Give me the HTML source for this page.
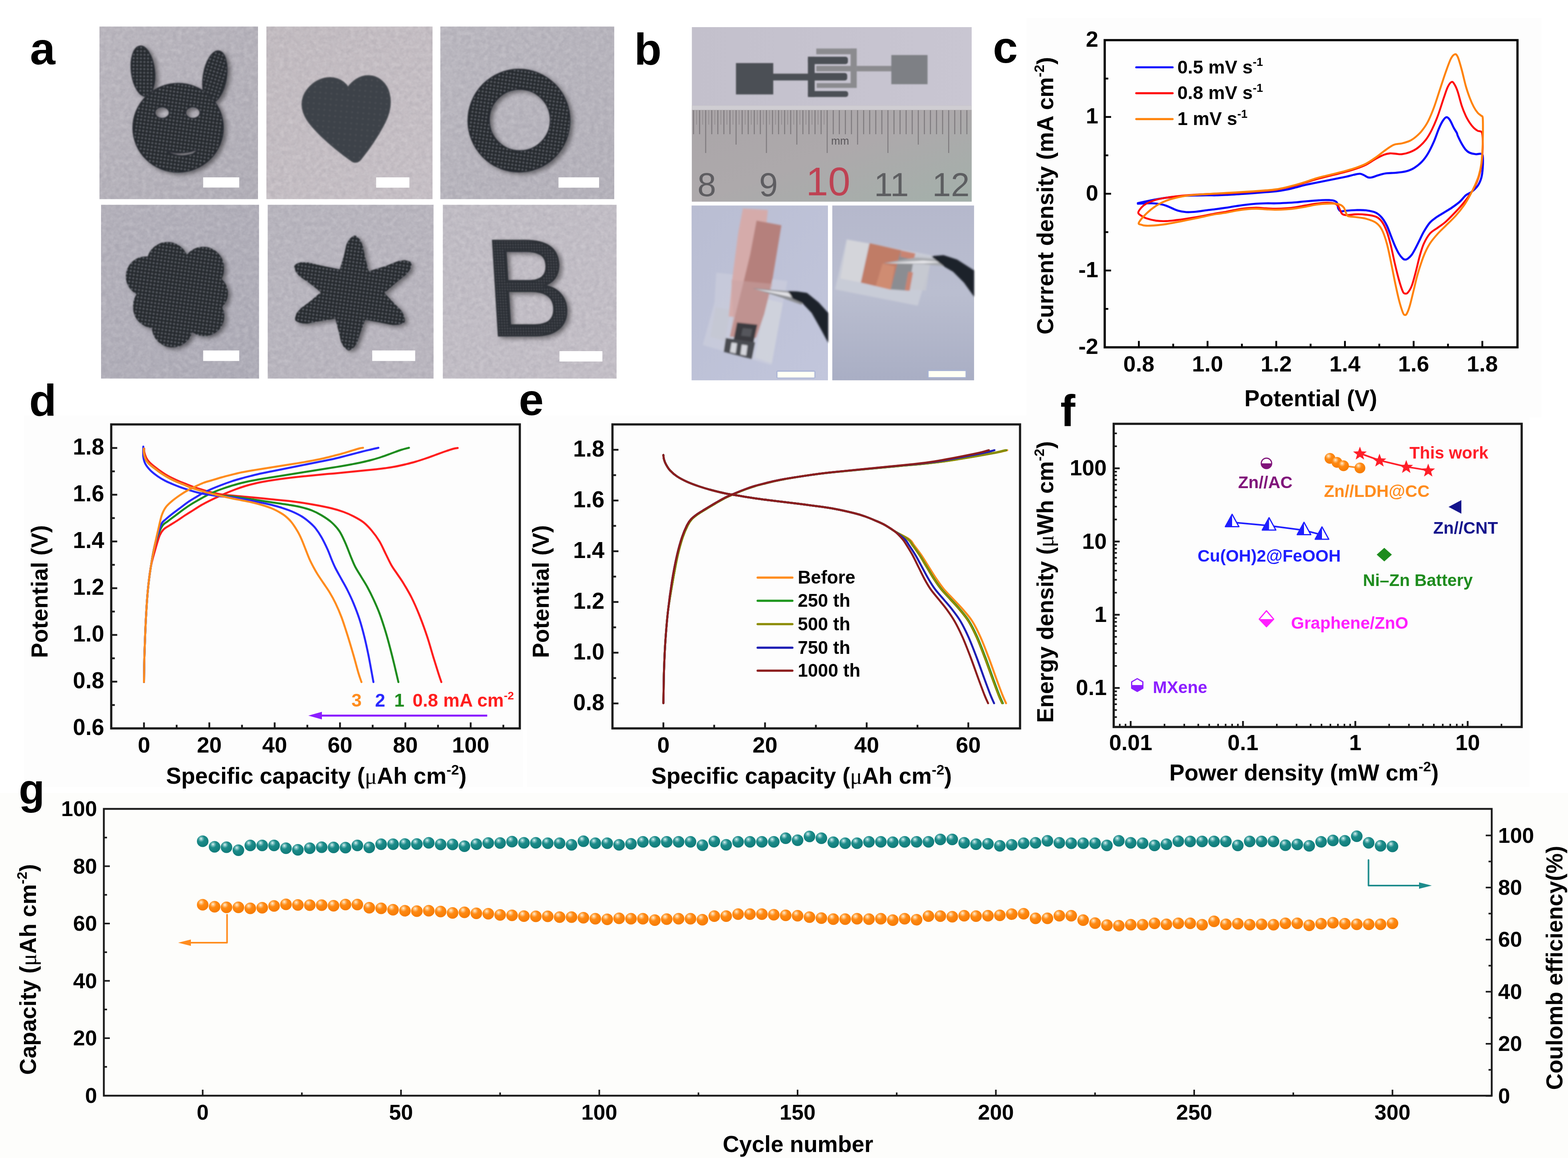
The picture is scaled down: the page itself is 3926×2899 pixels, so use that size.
<!DOCTYPE html>
<html lang="en"><head><meta charset="utf-8"><title>Figure</title>
<style>
html,body{margin:0;padding:0;background:#fff;}
body{width:3926px;height:2899px;overflow:hidden;}
svg{display:block;font-family:"Liberation Sans",Arial,Helvetica,sans-serif;}
</style></head><body>
<svg width="3926" height="2899" viewBox="0 0 3926 2899">
<rect width="3926" height="2899" fill="#ffffff"/>

<defs>
<radialGradient id="gOr" cx="0.38" cy="0.32" r="0.7" fx="0.36" fy="0.28">
 <stop offset="0" stop-color="#fff3e0"/><stop offset="0.14" stop-color="#ffc98a"/><stop offset="0.4" stop-color="#ff8a14"/><stop offset="1" stop-color="#f57a00"/>
</radialGradient>
<radialGradient id="gTe" cx="0.38" cy="0.32" r="0.7" fx="0.36" fy="0.28">
 <stop offset="0" stop-color="#e8fafa"/><stop offset="0.14" stop-color="#8cc8c8"/><stop offset="0.4" stop-color="#1c8c8a"/><stop offset="1" stop-color="#0f7a78"/>
</radialGradient>
<linearGradient id="bgA1" x1="0" y1="0" x2="1" y2="1"><stop offset="0" stop-color="#b9b5bd"/><stop offset="1" stop-color="#b0adb6"/></linearGradient>
<linearGradient id="bgA2" x1="0" y1="0" x2="1" y2="1"><stop offset="0" stop-color="#c1babf"/><stop offset="1" stop-color="#c6bfc5"/></linearGradient>
<linearGradient id="bgA3" x1="0" y1="0" x2="1" y2="1"><stop offset="0" stop-color="#b9b6be"/><stop offset="1" stop-color="#b3b0b9"/></linearGradient>
<linearGradient id="bgA4" x1="0" y1="0" x2="1" y2="1"><stop offset="0" stop-color="#b2afb9"/><stop offset="1" stop-color="#adabb6"/></linearGradient>
<linearGradient id="bgA5" x1="0" y1="0" x2="1" y2="1"><stop offset="0" stop-color="#b6b3bc"/><stop offset="1" stop-color="#b9b5be"/></linearGradient>
<linearGradient id="bgA6" x1="0" y1="0" x2="1" y2="1"><stop offset="0" stop-color="#bfbbc3"/><stop offset="1" stop-color="#c3bec6"/></linearGradient>
<linearGradient id="bgB1" x1="0" y1="0" x2="1" y2="0"><stop offset="0" stop-color="#c3c0cc"/><stop offset="1" stop-color="#c9c6d2"/></linearGradient>
<linearGradient id="ruler" x1="0" y1="0" x2="1" y2="1"><stop offset="0" stop-color="#aaa5a8"/><stop offset="0.5" stop-color="#ada9ab"/><stop offset="1" stop-color="#a3b0aa"/></linearGradient>
<linearGradient id="bgB2" x1="0" y1="0" x2="1" y2="1"><stop offset="0" stop-color="#b9bdd2"/><stop offset="1" stop-color="#c2c6dc"/></linearGradient>
<linearGradient id="bgB3" x1="0" y1="0" x2="0" y2="1"><stop offset="0" stop-color="#b5b8cc"/><stop offset="0.5" stop-color="#babed0"/><stop offset="1" stop-color="#a9aec4"/></linearGradient>
<pattern id="knit" width="9" height="9" patternUnits="userSpaceOnUse" patternTransform="rotate(8)">
 <rect width="9" height="9" fill="#26292f"/><circle cx="4.5" cy="4.5" r="2.1" fill="#666a72"/>
</pattern>
<pattern id="knit2" width="7" height="7" patternUnits="userSpaceOnUse">
 <rect width="7" height="7" fill="#2b2e34"/><circle cx="3.5" cy="3.5" r="1.5" fill="#5c6068"/>
</pattern>
<pattern id="heartp" width="14" height="14" patternUnits="userSpaceOnUse" patternTransform="rotate(5)">
 <rect width="14" height="14" fill="#3e4248"/><circle cx="7" cy="7" r="2" fill="#4c5057"/>
</pattern>
<filter id="grain" x="0" y="0" width="100%" height="100%">
 <feTurbulence type="fractalNoise" baseFrequency="0.09 0.09" numOctaves="3" seed="7" result="n"/>
 <feColorMatrix in="n" type="matrix" values="0 0 0 0 0.2  0 0 0 0 0.2  0 0 0 0 0.25  1.6 0 0 0 -0.55"/>
</filter>
<filter id="grain2" x="0" y="0" width="100%" height="100%">
 <feTurbulence type="fractalNoise" baseFrequency="0.09 0.09" numOctaves="3" seed="11" result="n"/>
 <feColorMatrix in="n" type="matrix" values="0 0 0 0 1  0 0 0 0 1  0 0 0 0 1  1.6 0 0 0 -0.55"/>
</filter>
<filter id="soft" x="-10%" y="-10%" width="120%" height="120%"><feGaussianBlur stdDeviation="1.6"/></filter>
<filter id="soft2" x="-10%" y="-10%" width="120%" height="120%"><feGaussianBlur stdDeviation="2.2"/></filter>
<filter id="shadow" x="-20%" y="-20%" width="140%" height="140%">
 <feGaussianBlur in="SourceAlpha" stdDeviation="6" result="b"/><feOffset in="b" dx="7" dy="5" result="o"/>
 <feComponentTransfer in="o" result="s"><feFuncA type="linear" slope="0.45"/></feComponentTransfer>
 <feMerge><feMergeNode in="s"/><feMergeNode in="SourceGraphic"/></feMerge>
</filter>
</defs>

<rect x="249" y="66.5" width="397" height="432" fill="url(#bgA1)" stroke="none" stroke-width="0"/>
<rect x="249" y="66.5" width="397" height="432" fill="#000" stroke="none" stroke-width="0" filter="url(#grain)" opacity="0.16"/>
<rect x="249" y="66.5" width="397" height="432" fill="#fff" stroke="none" stroke-width="0" filter="url(#grain2)" opacity="0.18"/>
<g filter="url(#soft)">
<g filter="url(#shadow)">
<g fill="url(#knit)" stroke="#2b2e34" stroke-width="3">
<ellipse cx="358" cy="178" rx="29" ry="63" transform="rotate(-7 358 178)"/>
<ellipse cx="538" cy="192" rx="29" ry="65" transform="rotate(9 538 192)"/>
<path fill-rule="evenodd" d="M333,320 a113,111 0 1 0 226,0 a113,111 0 1 0 -226,0 Z M388,282 a18,14.5 0 1 0 36,0 a18,14.5 0 1 0 -36,0 Z M465,282 a18,14.5 0 1 0 36,0 a18,14.5 0 1 0 -36,0 Z M412,376 q40,14 82,-2 q-4,10 -16,13 q-34,10 -66,-11 Z"/>
</g></g></g>
<rect x="508.7" y="444" width="90.3" height="25.5" fill="#fff" stroke="none" stroke-width="0"/>
<rect x="667" y="66.5" width="416" height="432" fill="url(#bgA2)" stroke="none" stroke-width="0"/>
<rect x="667" y="66.5" width="416" height="432" fill="#000" stroke="none" stroke-width="0" filter="url(#grain)" opacity="0.16"/>
<rect x="667" y="66.5" width="416" height="432" fill="#fff" stroke="none" stroke-width="0" filter="url(#grain2)" opacity="0.18"/>
<g filter="url(#soft)"><path d="M871.5,218.6 C857.9,197.4 833.7,191.3 812.5,195.9 C782.3,203.4 756.5,230.7 756.5,260.9 C756.5,291.2 779.2,315.4 803.4,339.6 C833.7,368.4 864,391.1 879.1,401.7 C886.7,407.7 895.8,407.7 903.3,398.7 C921.5,376 945.7,342.7 963.8,306.3 C976,282.1 980.5,257.9 974.4,233.7 C968.4,209.5 948.7,189.8 921.5,189.8 C900.3,189.8 882.1,203.4 871.5,218.6Z" fill="url(#heartp)" stroke="#45494f" stroke-width="3"/></g>
<rect x="941.8" y="444" width="83.2" height="25.8" fill="#fff" stroke="none" stroke-width="0"/>
<rect x="1102.5" y="66.5" width="435.5" height="432" fill="url(#bgA3)" stroke="none" stroke-width="0"/>
<rect x="1102.5" y="66.5" width="435.5" height="432" fill="#000" stroke="none" stroke-width="0" filter="url(#grain)" opacity="0.16"/>
<rect x="1102.5" y="66.5" width="435.5" height="432" fill="#fff" stroke="none" stroke-width="0" filter="url(#grain2)" opacity="0.18"/>
<g filter="url(#soft)"><g filter="url(#shadow)">
<path fill-rule="evenodd" fill="url(#knit)" stroke="#2b2e34" stroke-width="3" d="M1172,302 a127.5,128.5 0 1 0 255,0 a127.5,128.5 0 1 0 -255,0 Z M1225,300.5 a76.5,77 0 1 0 153,0 a76.5,77 0 1 0 -153,0 Z"/>
</g></g>
<rect x="1398.4" y="444" width="101.6" height="25.8" fill="#fff" stroke="none" stroke-width="0"/>
<rect x="253" y="512.7" width="395.5" height="435" fill="url(#bgA4)" stroke="none" stroke-width="0"/>
<rect x="253" y="512.7" width="395.5" height="435" fill="#000" stroke="none" stroke-width="0" filter="url(#grain)" opacity="0.16"/>
<rect x="253" y="512.7" width="395.5" height="435" fill="#fff" stroke="none" stroke-width="0" filter="url(#grain2)" opacity="0.18"/>
<g filter="url(#soft)"><g filter="url(#shadow)"><g fill="url(#knit)" stroke="#2b2e34" stroke-width="2">
<path d="M351.3,737.3 a90.8,90.8 0 1 0 181.6,0 a90.8,90.8 0 1 0 -181.6,0 Z M367.4,660.1 a52.1,52.1 0 1 0 104.1,0 a52.1,52.1 0 1 0 -104.1,0 Z M456.7,672.2 a52.1,52.1 0 1 0 104.1,0 a52.1,52.1 0 1 0 -104.1,0 Z M473.9,734.2 a48.4,48.4 0 1 0 96.9,0 a48.4,48.4 0 1 0 -96.9,0 Z M461.8,791.7 a49.9,49.9 0 1 0 99.9,0 a49.9,49.9 0 1 0 -99.9,0 Z M380.1,816 a51.5,51.5 0 1 0 102.9,0 a51.5,51.5 0 1 0 -102.9,0 Z M333.2,767.5 a51.5,51.5 0 1 0 102.9,0 a51.5,51.5 0 1 0 -102.9,0 Z M315,691.9 a49.9,49.9 0 1 0 99.9,0 a49.9,49.9 0 1 0 -99.9,0 Z" fill-rule="nonzero" stroke="none"/>
</g></g></g>
<rect x="508.7" y="877.4" width="90.3" height="26.3" fill="#fff" stroke="none" stroke-width="0"/>
<rect x="670.3" y="512.7" width="415.2" height="435" fill="url(#bgA5)" stroke="none" stroke-width="0"/>
<rect x="670.3" y="512.7" width="415.2" height="435" fill="#000" stroke="none" stroke-width="0" filter="url(#grain)" opacity="0.16"/>
<rect x="670.3" y="512.7" width="415.2" height="435" fill="#fff" stroke="none" stroke-width="0" filter="url(#grain2)" opacity="0.18"/>
<mask id="mstar" maskUnits="userSpaceOnUse" x="670" y="512" width="416" height="436"><path d="M868,641.2 L874,614.4 L880,603.1 L887.9,596.5 L895.6,603.9 L901.5,616.2 L907.2,644.5 L918.1,687.6 L967,672.9 L998.2,660.5 L1013.2,658.3 L1023.5,661.3 L1020.7,671.6 L1012.2,682.6 L988.7,701.2 L952.7,732.9 L981.2,763.5 L999.1,781.5 L1005.1,792.3 L1007,802.5 L996.9,806.3 L983,806.8 L954.6,800.9 L910.1,792.8 L895.8,830.8 L888.3,854.5 L881.7,864.5 L873.4,870.4 L865.9,863.6 L860.2,853.1 L855,829.1 L844.8,790.2 L798.5,797.4 L769.3,803.2 L755.3,802.5 L745.4,798.3 L748.4,788.2 L756.6,777.8 L779.4,760.8 L814.2,731.6 L778.7,703 L755.3,687.1 L746.8,677.2 L743.8,667.3 L754.4,663.5 L770.5,663.9 L804.5,672.2 L855.5,682.3Z" fill="#fff" stroke="#fff" stroke-width="14" stroke-linejoin="round"/></mask>
<g filter="url(#soft)"><g filter="url(#shadow)"><rect x="670" y="512" width="416" height="436" fill="url(#knit)" mask="url(#mstar)"/></g></g>
<rect x="932" y="877.4" width="107.5" height="26.3" fill="#fff" stroke="none" stroke-width="0"/>
<rect x="1108.8" y="512.7" width="435" height="435" fill="url(#bgA6)" stroke="none" stroke-width="0"/>
<rect x="1108.8" y="512.7" width="435" height="435" fill="#000" stroke="none" stroke-width="0" filter="url(#grain)" opacity="0.16"/>
<rect x="1108.8" y="512.7" width="435" height="435" fill="#fff" stroke="none" stroke-width="0" filter="url(#grain2)" opacity="0.18"/>
<g filter="url(#soft)"><g filter="url(#shadow)">
<text x="0" y="0" transform="translate(1222 840) skewX(3.5) scale(0.945 1)" font-size="345" font-weight="normal" fill="url(#knit2)" stroke="#2e3137" stroke-width="5" font-family="'Liberation Sans', Arial, sans-serif">B</text>
</g></g>
<rect x="1400.8" y="879" width="107.5" height="26" fill="#fff" stroke="none" stroke-width="0"/>
<text x="75" y="161" font-size="114" text-anchor="start" fill="#000" font-weight="bold">a</text>
<rect x="1732.3" y="67.9" width="700.6" height="436.9" fill="url(#bgB1)" stroke="none" stroke-width="0"/>
<rect x="1732.3" y="264.2" width="700.6" height="240.5" fill="url(#ruler)" stroke="none" stroke-width="0"/>
<rect x="1732.3" y="264.2" width="700.6" height="10.9" fill="#cfcdd2" stroke="none" stroke-width="0"/>
<g stroke="#6e6a6e" stroke-width="2.6" opacity="0.7">
<line x1="1736.5" y1="276" x2="1736.5" y2="336"/>
<line x1="1751.7" y1="276" x2="1751.7" y2="336"/>
<line x1="1766.9" y1="276" x2="1766.9" y2="383"/>
<line x1="1782.1" y1="276" x2="1782.1" y2="336"/>
<line x1="1797.3" y1="276" x2="1797.3" y2="336"/>
<line x1="1812.5" y1="276" x2="1812.5" y2="336"/>
<line x1="1827.7" y1="276" x2="1827.7" y2="336"/>
<line x1="1843" y1="276" x2="1843" y2="362"/>
<line x1="1858.2" y1="276" x2="1858.2" y2="336"/>
<line x1="1873.4" y1="276" x2="1873.4" y2="336"/>
<line x1="1888.6" y1="276" x2="1888.6" y2="336"/>
<line x1="1903.8" y1="276" x2="1903.8" y2="336"/>
<line x1="1919" y1="276" x2="1919" y2="383"/>
<line x1="1934.2" y1="276" x2="1934.2" y2="336"/>
<line x1="1949.4" y1="276" x2="1949.4" y2="336"/>
<line x1="1964.6" y1="276" x2="1964.6" y2="336"/>
<line x1="1979.8" y1="276" x2="1979.8" y2="336"/>
<line x1="1995.1" y1="276" x2="1995.1" y2="362"/>
<line x1="2010.3" y1="276" x2="2010.3" y2="336"/>
<line x1="2025.5" y1="276" x2="2025.5" y2="336"/>
<line x1="2040.7" y1="276" x2="2040.7" y2="336"/>
<line x1="2055.9" y1="276" x2="2055.9" y2="336"/>
<line x1="2071.1" y1="276" x2="2071.1" y2="383"/>
<line x1="2086.3" y1="276" x2="2086.3" y2="336"/>
<line x1="2101.5" y1="276" x2="2101.5" y2="336"/>
<line x1="2116.7" y1="276" x2="2116.7" y2="336"/>
<line x1="2131.9" y1="276" x2="2131.9" y2="336"/>
<line x1="2147.2" y1="276" x2="2147.2" y2="362"/>
<line x1="2162.4" y1="276" x2="2162.4" y2="336"/>
<line x1="2177.6" y1="276" x2="2177.6" y2="336"/>
<line x1="2192.8" y1="276" x2="2192.8" y2="336"/>
<line x1="2208" y1="276" x2="2208" y2="336"/>
<line x1="2223.2" y1="276" x2="2223.2" y2="383"/>
<line x1="2238.4" y1="276" x2="2238.4" y2="336"/>
<line x1="2253.6" y1="276" x2="2253.6" y2="336"/>
<line x1="2268.8" y1="276" x2="2268.8" y2="336"/>
<line x1="2284" y1="276" x2="2284" y2="336"/>
<line x1="2299.2" y1="276" x2="2299.2" y2="362"/>
<line x1="2314.5" y1="276" x2="2314.5" y2="336"/>
<line x1="2329.7" y1="276" x2="2329.7" y2="336"/>
<line x1="2344.9" y1="276" x2="2344.9" y2="336"/>
<line x1="2360.1" y1="276" x2="2360.1" y2="336"/>
<line x1="2375.3" y1="276" x2="2375.3" y2="383"/>
<line x1="2390.5" y1="276" x2="2390.5" y2="336"/>
<line x1="2405.7" y1="276" x2="2405.7" y2="336"/>
<line x1="2420.9" y1="276" x2="2420.9" y2="336"/>
</g>
<g stroke="#8a8488" stroke-width="2" opacity="0.7">
<line x1="1744.1" y1="276" x2="1744.1" y2="312"/>
<line x1="1759.3" y1="276" x2="1759.3" y2="312"/>
<line x1="1774.5" y1="276" x2="1774.5" y2="312"/>
<line x1="1789.7" y1="276" x2="1789.7" y2="312"/>
<line x1="1804.9" y1="276" x2="1804.9" y2="312"/>
<line x1="1820.1" y1="276" x2="1820.1" y2="312"/>
<line x1="1835.3" y1="276" x2="1835.3" y2="312"/>
<line x1="1850.6" y1="276" x2="1850.6" y2="312"/>
<line x1="1865.8" y1="276" x2="1865.8" y2="312"/>
<line x1="1881" y1="276" x2="1881" y2="312"/>
<line x1="1896.2" y1="276" x2="1896.2" y2="312"/>
<line x1="1911.4" y1="276" x2="1911.4" y2="312"/>
<line x1="1926.6" y1="276" x2="1926.6" y2="312"/>
<line x1="1941.8" y1="276" x2="1941.8" y2="312"/>
<line x1="1957" y1="276" x2="1957" y2="312"/>
<line x1="1972.2" y1="276" x2="1972.2" y2="312"/>
<line x1="1987.4" y1="276" x2="1987.4" y2="312"/>
<line x1="2002.7" y1="276" x2="2002.7" y2="312"/>
<line x1="2017.9" y1="276" x2="2017.9" y2="312"/>
<line x1="2033.1" y1="276" x2="2033.1" y2="312"/>
<line x1="2048.3" y1="276" x2="2048.3" y2="312"/>
<line x1="2063.5" y1="276" x2="2063.5" y2="312"/>
</g>
<text x="1769.5" y="491" font-size="84" text-anchor="middle" fill="#4b4b4f" font-weight="normal" font-family="'Liberation Sans', Arial, sans-serif" opacity="0.8">8</text>
<text x="1924" y="491" font-size="84" text-anchor="middle" fill="#4b4b4f" font-weight="normal" font-family="'Liberation Sans', Arial, sans-serif" opacity="0.8">9</text>
<text x="2073.5" y="489" font-size="100" text-anchor="middle" fill="#c4283e" font-weight="normal" font-family="'Liberation Sans', Arial, sans-serif" opacity="0.8">10</text>
<text x="2232" y="491" font-size="84" text-anchor="middle" fill="#4b4b4f" font-weight="normal" font-family="'Liberation Sans', Arial, sans-serif" opacity="0.8">11</text>
<text x="2381" y="491" font-size="84" text-anchor="middle" fill="#4b4b4f" font-weight="normal" font-family="'Liberation Sans', Arial, sans-serif" opacity="0.8">12</text>
<text x="2081" y="362" font-size="27" fill="#5a575b" font-weight="normal" font-family="'Liberation Sans', Arial, sans-serif">mm</text>
<g filter="url(#soft)">
<rect x="2043.8" y="121.5" width="101.2" height="14.3" fill="#8b8b8f" stroke="none" stroke-width="0"/>
<rect x="2129.8" y="121.5" width="15.3" height="98.5" fill="#8b8b8f" stroke="none" stroke-width="0"/>
<rect x="2043.8" y="165" width="87.7" height="13.6" fill="#8b8b8f" stroke="none" stroke-width="0"/>
<rect x="2044.8" y="208.2" width="100.2" height="11.9" fill="#8b8b8f" stroke="none" stroke-width="0"/>
<rect x="2145.1" y="165" width="88.3" height="13.6" fill="#8b8b8f" stroke="none" stroke-width="0"/>
<rect x="2231.7" y="137.8" width="90.7" height="73" fill="#7e8085" stroke="none" stroke-width="0"/>
<rect x="1842.7" y="157.9" width="93.4" height="78.5" fill="#4c4f54" stroke="none" stroke-width="0"/>
<rect x="1934.4" y="184.4" width="90" height="17" fill="#4c4f54" stroke="none" stroke-width="0"/>
<rect x="2022.8" y="141.9" width="17" height="100.9" fill="#4c4f54" stroke="none" stroke-width="0"/>
<rect x="2022.8" y="141.9" width="100.2" height="18.7" fill="#4c4f54" stroke="none" stroke-width="0" rx="6"/>
<rect x="2022.8" y="182.7" width="98.5" height="18.7" fill="#4c4f54" stroke="none" stroke-width="0" rx="6"/>
<rect x="2022.8" y="227.9" width="100.9" height="14.9" fill="#4c4f54" stroke="none" stroke-width="0" rx="6"/>
</g>
<rect x="1731.6" y="514.5" width="341.4" height="437.6" fill="url(#bgB2)" stroke="none" stroke-width="0"/>
<g filter="url(#soft2)">
<polygon points="1793.4,682.6 1971.5,703.4 1960.9,757 1931.4,914 1759.5,863.7 1789,757" fill="#d4d6df" opacity="0.42"/>
<polygon points="1791.7,768.6 1829.1,775.4 1815.5,853.5 1778.1,843.3" fill="#c4c6cf" opacity="0.55"/>
<polygon points="1917.4,748.2 1959.9,758.4 1932.7,909.6 1890.3,894.3" fill="#d5d7de" opacity="0.6"/>
<polygon points="1860,521.9 1922.5,525.7 1917.4,578.3 1869.9,795.8 1824.7,792.4 1833.5,697.6 1848.1,584.8" fill="#d5abaa"/>
<polygon points="1894.3,552.2 1956.5,564.1 1934.4,697.6 1913.4,786.6 1892.6,845.7 1827.4,843 1860,712.5 1878,638.1" fill="#b5807c"/>
<polygon points="1830.8,700.6 1934.4,710.8 1913.4,786.6 1895.4,843.3 1827.4,843 1835.9,789" fill="#c9a4a3" opacity="0.5"/>
<polygon points="1845.4,807.3 1896.4,812.8 1886.2,859.6 1836.6,852.2" fill="#3a3b40"/>
<polygon points="1859.7,821.2 1883.5,823.6 1879.4,843.3 1855.6,840.6" fill="#55565c"/>
<polygon points="1817.2,846.1 1890.9,856.9 1882.4,899.1 1812.1,880.7" fill="#4a4b51"/>
<polygon points="1831.8,857.6 1845.4,859.6 1842,884.8 1827.7,881.4" fill="#d4d5dc"/>
<polygon points="1857.3,862.7 1871.6,864.7 1868.2,890.2 1853.9,887.5" fill="#d4d5dc"/>
<polygon points="1883.8,721.4 1972.8,728.8 2014.3,743.1 2007.5,763.5 1958.2,745.5" fill="#8d8f94"/>
<polygon points="1890.3,723.7 1971.8,732.6 2005.8,748.9 1965,740.4" fill="#e2e2e6"/>
<polygon points="1972.8,728.8 1995.6,729.5 2020.4,733.3 2049.9,757 2073.7,783.5 2073.7,858.6 2055.7,825 2032.3,783.5 2008.5,758.4 1985.4,748.2" fill="#1d2229"/>
</g>
<rect x="1943.9" y="927.6" width="97.8" height="20" fill="#aab4d6" stroke="none" stroke-width="0" rx="4"/>
<rect x="1946.7" y="930.6" width="92.4" height="14.6" fill="#fffff4" stroke="none" stroke-width="0"/>
<rect x="2083.9" y="514.5" width="355" height="437.6" fill="url(#bgB3)" stroke="none" stroke-width="0"/>
<g filter="url(#soft2)">
<polygon points="2119.6,598.7 2335.3,639.5 2297.9,765.2 2090.7,724.4" fill="#cdd0da" opacity="0.75"/>
<polygon points="2121.3,600.4 2175.6,609.6 2155.3,707.4 2104.3,697.2" fill="#d4d5da"/>
<polygon points="2291.2,636.1 2331.9,642.9 2318.3,727.8 2277.6,724.4" fill="#c6c8d0" opacity="0.8"/>
<polygon points="2177.3,608.9 2257.2,626.6 2230,725.1 2155.3,707.4" fill="#c07c66"/>
<polygon points="2209.6,659.9 2240.2,666.7 2230,725.1 2192.6,715.9" fill="#cf8c72"/>
<polygon points="2253.8,632.7 2289.5,639.5 2274.2,727.8 2230,724.4" fill="#8b8d92"/>
<polygon points="2257.2,626.9 2291.8,634.4 2288.4,649.7 2253.8,642.9" fill="#c98472"/>
<polygon points="2274.2,680.3 2286.1,682 2277.6,727.8 2265.7,727.1" fill="#c98472"/>
<polygon points="2211.3,658.9 2294.6,644.6 2365.9,649.7 2367.6,666.7 2311.5,661.6" fill="#a9abb0"/>
<polygon points="2219.8,658.9 2311.5,652.4 2362.5,656.5 2311.5,659.2" fill="#e8e8ec"/>
<polygon points="2331.9,641.2 2362.5,638.8 2396.5,649.7 2438.9,676.9 2438.9,743.1 2413.5,707.4 2386.3,680.3 2365.9,668.4 2345.5,653.1" fill="#1d2229"/>
</g>
<rect x="2321.7" y="925.6" width="98.5" height="21.4" fill="#a8b2d2" stroke="none" stroke-width="0" rx="4"/>
<rect x="2325.1" y="928.9" width="92.4" height="15.3" fill="#fffff4" stroke="none" stroke-width="0"/>
<text x="1588" y="162" font-size="112" text-anchor="start" fill="#000" font-weight="bold">b</text>
<rect x="2570" y="45" width="1290" height="1000" fill="#fdfdfd" stroke="none" stroke-width="0"/>
<rect x="2766" y="100.5" width="1033.5" height="769" fill="#fefefe" stroke="#000" stroke-width="5.5"/>
<line x1="2851.5" y1="869.5" x2="2851.5" y2="853.5" stroke="#000" stroke-width="4.5"/><line x1="3023.5" y1="869.5" x2="3023.5" y2="853.5" stroke="#000" stroke-width="4.5"/><line x1="3195.5" y1="869.5" x2="3195.5" y2="853.5" stroke="#000" stroke-width="4.5"/><line x1="3367.5" y1="869.5" x2="3367.5" y2="853.5" stroke="#000" stroke-width="4.5"/><line x1="3539.5" y1="869.5" x2="3539.5" y2="853.5" stroke="#000" stroke-width="4.5"/><line x1="3711.5" y1="869.5" x2="3711.5" y2="853.5" stroke="#000" stroke-width="4.5"/>
<line x1="2937.5" y1="869.5" x2="2937.5" y2="860.5" stroke="#000" stroke-width="4.5"/><line x1="3109.5" y1="869.5" x2="3109.5" y2="860.5" stroke="#000" stroke-width="4.5"/><line x1="3281.5" y1="869.5" x2="3281.5" y2="860.5" stroke="#000" stroke-width="4.5"/><line x1="3453.5" y1="869.5" x2="3453.5" y2="860.5" stroke="#000" stroke-width="4.5"/><line x1="3625.5" y1="869.5" x2="3625.5" y2="860.5" stroke="#000" stroke-width="4.5"/>
<line x1="2766" y1="677.2" x2="2782" y2="677.2" stroke="#000" stroke-width="4.5"/><line x1="2766" y1="485" x2="2782" y2="485" stroke="#000" stroke-width="4.5"/><line x1="2766" y1="292.8" x2="2782" y2="292.8" stroke="#000" stroke-width="4.5"/>
<line x1="2766" y1="773.3" x2="2775" y2="773.3" stroke="#000" stroke-width="4.5"/><line x1="2766" y1="581.1" x2="2775" y2="581.1" stroke="#000" stroke-width="4.5"/><line x1="2766" y1="388.9" x2="2775" y2="388.9" stroke="#000" stroke-width="4.5"/><line x1="2766" y1="196.7" x2="2775" y2="196.7" stroke="#000" stroke-width="4.5"/>
<text x="2750" y="117.1" font-size="56" text-anchor="end" fill="#000" font-weight="bold">2</text>
<text x="2750" y="309.3" font-size="56" text-anchor="end" fill="#000" font-weight="bold">1</text>
<text x="2750" y="501.5" font-size="56" text-anchor="end" fill="#000" font-weight="bold">0</text>
<text x="2750" y="693.7" font-size="56" text-anchor="end" fill="#000" font-weight="bold">-1</text>
<text x="2750" y="885.9" font-size="56" text-anchor="end" fill="#000" font-weight="bold">-2</text>
<text x="2851.5" y="930" font-size="56" text-anchor="middle" fill="#000" font-weight="bold">0.8</text>
<text x="3023.5" y="930" font-size="56" text-anchor="middle" fill="#000" font-weight="bold">1.0</text>
<text x="3195.5" y="930" font-size="56" text-anchor="middle" fill="#000" font-weight="bold">1.2</text>
<text x="3367.5" y="930" font-size="56" text-anchor="middle" fill="#000" font-weight="bold">1.4</text>
<text x="3539.5" y="930" font-size="56" text-anchor="middle" fill="#000" font-weight="bold">1.6</text>
<text x="3711.5" y="930" font-size="56" text-anchor="middle" fill="#000" font-weight="bold">1.8</text>
<text x="3282" y="1017" font-size="57" text-anchor="middle" fill="#000" font-weight="bold">Potential (V)</text>
<text x="2637" y="490" font-size="57" text-anchor="middle" fill="#000" font-weight="bold" transform="rotate(-90 2637 490)" xml:space="preserve"><tspan>Current density (mA cm</tspan><tspan dy="-22.8" font-size="35.3">-2</tspan><tspan dy="22.8">)</tspan></text>
<line x1="2845" y1="168.5" x2="2936" y2="168.5" stroke="#0a0aff" stroke-width="5.2" stroke-linecap="round"/>
<text x="2948" y="183.5" font-size="46.5" text-anchor="start" fill="#000" font-weight="bold" xml:space="preserve"><tspan>0.5 mV s</tspan><tspan dy="-18.6" font-size="28.8">-1</tspan></text>
<line x1="2845" y1="233.3" x2="2936" y2="233.3" stroke="#ff0a0a" stroke-width="5.2" stroke-linecap="round"/>
<text x="2948" y="248.3" font-size="46.5" text-anchor="start" fill="#000" font-weight="bold" xml:space="preserve"><tspan>0.8 mV s</tspan><tspan dy="-18.6" font-size="28.8">-1</tspan></text>
<line x1="2845" y1="298.1" x2="2936" y2="298.1" stroke="#ff8208" stroke-width="5.2" stroke-linecap="round"/>
<text x="2948" y="313.1" font-size="46.5" text-anchor="start" fill="#000" font-weight="bold" xml:space="preserve"><tspan>1 mV s</tspan><tspan dy="-18.6" font-size="28.8">-1</tspan></text>
<path d="M2849,508.5C2852.5,507.8 2862.3,505.6 2870,504C2877.7,502.4 2886.7,500.5 2895,499C2903.3,497.5 2911.7,496.1 2920,495C2928.3,493.9 2936.7,493.3 2945,492.5C2953.3,491.7 2957.5,490.6 2970,490C2982.5,489.4 3007.5,489.2 3020,489C3032.5,488.8 3036.7,489.2 3045,489C3053.3,488.8 3057.5,488.7 3070,488C3082.5,487.3 3103.3,486.2 3120,485C3136.7,483.8 3157.5,482 3170,481C3182.5,480 3186.7,480 3195,479C3203.3,478 3211.7,476.7 3220,475C3228.3,473.3 3236.7,471.1 3245,469C3253.3,466.9 3261.7,464.4 3270,462.5C3278.3,460.6 3286.7,459.2 3295,457.5C3303.3,455.8 3311.7,454.2 3320,452.5C3328.3,450.8 3336.7,449.2 3345,447.5C3353.3,445.8 3362.5,444.2 3370,442.5C3377.5,440.8 3384.2,438.8 3390,437.5C3395.8,436.2 3400.8,434.8 3405,435C3409.2,435.2 3411.7,437 3415,438.5C3418.3,440 3421.7,443.1 3425,444C3428.3,444.9 3430.8,444.8 3435,444C3439.2,443.2 3444.2,440.7 3450,439C3455.8,437.3 3462.5,435.1 3470,434C3477.5,432.9 3486.7,433.3 3495,432.5C3503.3,431.7 3512.5,430.9 3520,429C3527.5,427.1 3533.3,425 3540,421C3546.7,417 3554.2,411 3560,405C3565.8,399 3570,393.3 3575,385C3580,376.7 3585.4,365.4 3590,355C3594.6,344.6 3598.8,331.2 3602.5,322.5C3606.2,313.8 3609.3,307.3 3612.5,302.5C3615.7,297.7 3618.6,293.9 3621.5,293.5C3624.4,293.1 3626.9,295.6 3630,300C3633.1,304.4 3637.1,314.6 3640,320C3642.9,325.4 3645.8,329.2 3647.5,332.5C3649.2,335.8 3647.9,335.4 3650,340C3652.1,344.6 3656.7,354.2 3660,360C3663.3,365.8 3666.7,371.2 3670,375C3673.3,378.8 3675.8,380.7 3680,382.5C3684.2,384.3 3690.4,385.6 3695,386C3699.6,386.4 3704.6,384.3 3707.5,385C3710.4,385.7 3711.7,384.2 3712.5,390C3713.3,395.8 3713.1,410.8 3712.5,420C3711.9,429.2 3711.1,437.5 3709,445C3706.9,452.5 3704,459.2 3700,465C3696,470.8 3690,476 3685,480C3680,484 3675,484.8 3670,489C3665,493.2 3660.8,499.8 3655,505C3649.2,510.2 3641.7,515.4 3635,520C3628.3,524.6 3621.7,528.3 3615,532.5C3608.3,536.7 3600.8,540.8 3595,545C3589.2,549.2 3585,551.7 3580,557.5C3575,563.3 3569.2,572.9 3565,580C3560.8,587.1 3558.3,593.3 3555,600C3551.7,606.7 3548.3,613.8 3545,620C3541.7,626.2 3538.3,632.9 3535,637.5C3531.7,642.1 3527.8,645.4 3525,647.5C3522.2,649.6 3520.6,650 3518.5,650C3516.4,650 3515.2,650 3512.5,647.5C3509.8,645 3505.8,640.4 3502.5,635C3499.2,629.6 3495.8,622.5 3492.5,615C3489.2,607.5 3485.8,598.3 3482.5,590C3479.2,581.7 3476.2,572.5 3472.5,565C3468.8,557.5 3464.6,550.4 3460,545C3455.4,539.6 3451.7,535.6 3445,532.5C3438.3,529.4 3428.3,527.6 3420,526.5C3411.7,525.4 3403.3,525.8 3395,526C3386.7,526.2 3376.2,527 3370,527.5C3363.8,528 3360.7,529.8 3357.5,529C3354.3,528.2 3352.7,526.1 3351,522.5C3349.3,518.9 3349.3,510.8 3347.5,507.5C3345.7,504.2 3342.9,503.6 3340,502.5C3337.1,501.4 3335,501.2 3330,501C3325,500.8 3320,500.5 3310,501C3300,501.5 3280.8,503.1 3270,504C3259.2,504.9 3253.3,505.8 3245,506.5C3236.7,507.2 3228.3,507.6 3220,508C3211.7,508.4 3203.3,508.8 3195,509C3186.7,509.2 3178.3,508.8 3170,509C3161.7,509.2 3153.3,509.4 3145,510C3136.7,510.6 3128.3,511.5 3120,512.5C3111.7,513.5 3103.3,514.8 3095,516C3086.7,517.2 3078.3,518.8 3070,520C3061.7,521.2 3053.3,522.4 3045,523.5C3036.7,524.6 3028.3,525.4 3020,526.5C3011.7,527.6 3003.3,529.2 2995,530C2986.7,530.8 2977.5,531.4 2970,531C2962.5,530.6 2955.8,529.1 2950,527.5C2944.2,525.9 2940,523.6 2935,521.5C2930,519.4 2925,516.8 2920,515C2915,513.2 2910.8,512 2905,511C2899.2,510 2890.8,509.3 2885,509C2879.2,508.7 2876,508.8 2870,509C2864,509.2 2852.5,509.8 2849,510" stroke="#0a0aff" stroke-width="5.2" fill="none" stroke-linejoin="round" stroke-linecap="round"/>
<path d="M2850,532.5C2850,529.2 2854.2,523.8 2857.5,520C2860.8,516.2 2863.8,513.3 2870,510C2876.2,506.7 2886.7,502.5 2895,500C2903.3,497.5 2911.7,496.4 2920,495C2928.3,493.6 2936.7,492.5 2945,491.5C2953.3,490.5 2957.5,489.9 2970,489C2982.5,488.1 3003.3,486.8 3020,486C3036.7,485.2 3053.3,484.8 3070,484C3086.7,483.2 3103.3,482.1 3120,481C3136.7,479.9 3157.5,478.5 3170,477.5C3182.5,476.5 3186.7,476.2 3195,475C3203.3,473.8 3211.7,471.8 3220,470C3228.3,468.2 3236.7,466.2 3245,464C3253.3,461.8 3261.7,459 3270,456.5C3278.3,454 3286.7,451.3 3295,449C3303.3,446.7 3311.7,444.6 3320,442.5C3328.3,440.4 3336.7,438.6 3345,436.5C3353.3,434.4 3361.7,432.3 3370,430C3378.3,427.7 3386.7,425.4 3395,422.5C3403.3,419.6 3411.7,416.7 3420,412.5C3428.3,408.3 3437.5,401.7 3445,397.5C3452.5,393.3 3459.2,389.8 3465,387.5C3470.8,385.2 3475,384.4 3480,384C3485,383.6 3490,384.7 3495,385C3500,385.3 3504.2,386.7 3510,386C3515.8,385.3 3523.3,383.7 3530,381C3536.7,378.3 3543.3,375.2 3550,370C3556.7,364.8 3564.2,357.5 3570,350C3575.8,342.5 3580,335 3585,325C3590,315 3595,303.3 3600,290C3605,276.7 3610.8,257.1 3615,245C3619.2,232.9 3621.7,224.2 3625,217.5C3628.3,210.8 3632.1,205.8 3635,205C3637.9,204.2 3640,208.3 3642.5,212.5C3645,216.7 3647.1,221.2 3650,230C3652.9,238.8 3656.7,255 3660,265C3663.3,275 3666.7,282.9 3670,290C3673.3,297.1 3676.7,302.5 3680,307.5C3683.3,312.5 3686.7,316.7 3690,320C3693.3,323.3 3696.7,325.7 3700,327.5C3703.3,329.3 3707.9,327.2 3710,331C3712.1,334.8 3712.2,341.8 3712.5,350C3712.8,358.2 3712.6,369.2 3712,380C3711.4,390.8 3710.6,404.6 3709,415C3707.4,425.4 3705.2,433.8 3702.5,442.5C3699.8,451.2 3696.2,460 3692.5,467.5C3688.8,475 3684.6,480.8 3680,487.5C3675.4,494.2 3670.8,500.4 3665,507.5C3659.2,514.6 3652.5,522.1 3645,530C3637.5,537.9 3627.5,548.3 3620,555C3612.5,561.7 3606.7,565 3600,570C3593.3,575 3585.8,578.3 3580,585C3574.2,591.7 3569.2,600.8 3565,610C3560.8,619.2 3558.3,628.3 3555,640C3551.7,651.7 3548.3,667.5 3545,680C3541.7,692.5 3538.3,706.2 3535,715C3531.7,723.8 3527.8,729.2 3525,732.5C3522.2,735.8 3520.6,735.4 3518.5,735C3516.4,734.6 3515.2,735.8 3512.5,730C3509.8,724.2 3505.8,711.7 3502.5,700C3499.2,688.3 3495.8,674.2 3492.5,660C3489.2,645.8 3485.8,628.3 3482.5,615C3479.2,601.7 3476.2,590 3472.5,580C3468.8,570 3464.6,561.2 3460,555C3455.4,548.8 3451.7,545.4 3445,542.5C3438.3,539.6 3428.3,538.5 3420,537.5C3411.7,536.5 3403.3,536.3 3395,536.5C3386.7,536.7 3375.8,538.8 3370,538.5C3364.2,538.2 3362.5,537.2 3360,535C3357.5,532.8 3356.7,528.3 3355,525C3353.3,521.7 3352.5,517.7 3350,515C3347.5,512.3 3345,510.2 3340,509C3335,507.8 3327.5,507.3 3320,507.5C3312.5,507.7 3303.3,508.9 3295,510C3286.7,511.1 3278.3,512.6 3270,514C3261.7,515.4 3253.3,517.2 3245,518.5C3236.7,519.8 3228.3,520.8 3220,521.5C3211.7,522.2 3203.3,522.5 3195,522.5C3186.7,522.5 3178.3,521.9 3170,521.5C3161.7,521.1 3153.3,520 3145,520C3136.7,520 3128.3,520.7 3120,521.5C3111.7,522.3 3103.3,523.6 3095,525C3086.7,526.4 3078.3,528.5 3070,530C3061.7,531.5 3053.3,532.5 3045,534C3036.7,535.5 3028.3,537.4 3020,539C3011.7,540.6 3003.3,542.1 2995,543.5C2986.7,544.9 2978.3,546.2 2970,547.5C2961.7,548.8 2953.3,550 2945,551C2936.7,552 2928.3,553.2 2920,553.5C2911.7,553.8 2903.3,553.7 2895,552.5C2886.7,551.3 2876.2,548.6 2870,546.5C2863.8,544.4 2860.8,542.3 2857.5,540C2854.2,537.7 2850,535.8 2850,532.5Z" stroke="#ff0a0a" stroke-width="4.8" fill="none" stroke-linejoin="round" stroke-linecap="round"/>
<path d="M2851.5,557.5C2853.6,552.9 2862.8,542.1 2870,535C2877.2,527.9 2886.7,520.4 2895,515C2903.3,509.6 2911.7,505.8 2920,502.5C2928.3,499.2 2936.7,497.1 2945,495C2953.3,492.9 2957.5,491.5 2970,490C2982.5,488.5 3003.3,487.2 3020,486C3036.7,484.8 3053.3,484 3070,483C3086.7,482 3103.3,481.1 3120,480C3136.7,478.9 3157.5,477.5 3170,476.5C3182.5,475.5 3186.7,475.2 3195,474C3203.3,472.8 3211.7,470.9 3220,469C3228.3,467.1 3236.7,464.8 3245,462.5C3253.3,460.2 3261.7,457.7 3270,455C3278.3,452.3 3286.7,449 3295,446.5C3303.3,444 3311.7,442.1 3320,440C3328.3,437.9 3336.7,436.1 3345,434C3353.3,431.9 3361.7,429.8 3370,427.5C3378.3,425.2 3386.7,422.9 3395,420C3403.3,417.1 3411.7,414.3 3420,410C3428.3,405.7 3436.7,399.8 3445,394C3453.3,388.2 3462.5,380.2 3470,375C3477.5,369.8 3483.3,365.2 3490,362.5C3496.7,359.8 3503.3,360.7 3510,359C3516.7,357.3 3524.2,355.2 3530,352.5C3535.8,349.8 3540,346.7 3545,342.5C3550,338.3 3555,333.8 3560,327.5C3565,321.2 3570,314.6 3575,305C3580,295.4 3585,283.3 3590,270C3595,256.7 3600,240 3605,225C3610,210 3615.4,192.9 3620,180C3624.6,167.1 3628.8,154.8 3632.5,147.5C3636.2,140.2 3639.6,136.8 3642.5,136C3645.4,135.2 3647.1,136 3650,142.5C3652.9,149 3656.7,162.9 3660,175C3663.3,187.1 3666.7,203.3 3670,215C3673.3,226.7 3676.7,236.2 3680,245C3683.3,253.8 3686.7,261.2 3690,267.5C3693.3,273.8 3696.8,278.8 3700,282.5C3703.2,286.2 3706.9,287.9 3709,290C3711.1,292.1 3711.8,288.3 3712.5,295C3713.2,301.7 3713.1,317.5 3713,330C3712.9,342.5 3712.7,356.7 3712,370C3711.3,383.3 3710.6,398.3 3709,410C3707.4,421.7 3705.2,430.8 3702.5,440C3699.8,449.2 3696.2,456.7 3692.5,465C3688.8,473.3 3684.6,481.7 3680,490C3675.4,498.3 3670.8,506.7 3665,515C3659.2,523.3 3652.5,531.7 3645,540C3637.5,548.3 3627.5,557.5 3620,565C3612.5,572.5 3606.7,577.5 3600,585C3593.3,592.5 3585.8,600.8 3580,610C3574.2,619.2 3570,627.5 3565,640C3560,652.5 3554.2,670.8 3550,685C3545.8,699.2 3543.3,711.7 3540,725C3536.7,738.3 3532.9,755 3530,765C3527.1,775 3524.6,781.1 3522.5,785C3520.4,788.9 3519.2,788.9 3517.5,788.5C3515.8,788.1 3515,788.9 3512.5,782.5C3510,776.1 3505.8,762.9 3502.5,750C3499.2,737.1 3495.8,720.8 3492.5,705C3489.2,689.2 3485.8,670.8 3482.5,655C3479.2,639.2 3476.2,623.3 3472.5,610C3468.8,596.7 3464.6,583.8 3460,575C3455.4,566.2 3451.7,562.1 3445,557.5C3438.3,552.9 3428.3,549.8 3420,547.5C3411.7,545.2 3402.5,544.6 3395,543.5C3387.5,542.4 3379.2,542.8 3375,541C3370.8,539.2 3371.7,536 3370,532.5C3368.3,529 3367.1,523.2 3365,520C3362.9,516.8 3360.8,515.2 3357.5,513.5C3354.2,511.8 3351.2,510.6 3345,510C3338.8,509.4 3328.3,509.6 3320,510C3311.7,510.4 3303.3,511.2 3295,512.5C3286.7,513.8 3278.3,516 3270,517.5C3261.7,519 3253.3,520.4 3245,521.5C3236.7,522.6 3228.3,523.4 3220,524C3211.7,524.6 3203.3,525 3195,525C3186.7,525 3178.3,524.4 3170,524C3161.7,523.6 3153.3,522.5 3145,522.5C3136.7,522.5 3128.3,523.2 3120,524C3111.7,524.8 3103.3,526.1 3095,527.5C3086.7,528.9 3078.3,531.1 3070,532.5C3061.7,533.9 3053.3,534.6 3045,536C3036.7,537.4 3028.3,539.2 3020,541C3011.7,542.8 3003.3,544.8 2995,546.5C2986.7,548.2 2978.3,549.8 2970,551.5C2961.7,553.2 2953.3,554.9 2945,556.5C2936.7,558.1 2928.3,559.8 2920,561C2911.7,562.2 2903.3,563.3 2895,564C2886.7,564.7 2876.2,565.2 2870,565C2863.8,564.8 2860.6,563.8 2857.5,562.5C2854.4,561.2 2849.4,562.1 2851.5,557.5Z" stroke="#ff8208" stroke-width="4.8" fill="none" stroke-linejoin="round" stroke-linecap="round"/>
<text x="2486" y="157" font-size="112" text-anchor="start" fill="#000" font-weight="bold">c</text>
<rect x="60" y="1040" width="1250" height="930" fill="#fdfdfd" stroke="none" stroke-width="0"/>
<rect x="278.5" y="1062.5" width="1023" height="761" fill="#fdfdfd" stroke="#1a1a1a" stroke-width="5.5"/>
<line x1="360.5" y1="1823.5" x2="360.5" y2="1808.5" stroke="#1a1a1a" stroke-width="4.5"/><line x1="524.1" y1="1823.5" x2="524.1" y2="1808.5" stroke="#1a1a1a" stroke-width="4.5"/><line x1="687.7" y1="1823.5" x2="687.7" y2="1808.5" stroke="#1a1a1a" stroke-width="4.5"/><line x1="851.3" y1="1823.5" x2="851.3" y2="1808.5" stroke="#1a1a1a" stroke-width="4.5"/><line x1="1014.9" y1="1823.5" x2="1014.9" y2="1808.5" stroke="#1a1a1a" stroke-width="4.5"/><line x1="1178.5" y1="1823.5" x2="1178.5" y2="1808.5" stroke="#1a1a1a" stroke-width="4.5"/>
<line x1="442.3" y1="1823.5" x2="442.3" y2="1814.5" stroke="#1a1a1a" stroke-width="4.5"/><line x1="605.9" y1="1823.5" x2="605.9" y2="1814.5" stroke="#1a1a1a" stroke-width="4.5"/><line x1="769.5" y1="1823.5" x2="769.5" y2="1814.5" stroke="#1a1a1a" stroke-width="4.5"/><line x1="933.1" y1="1823.5" x2="933.1" y2="1814.5" stroke="#1a1a1a" stroke-width="4.5"/><line x1="1096.7" y1="1823.5" x2="1096.7" y2="1814.5" stroke="#1a1a1a" stroke-width="4.5"/><line x1="1260.3" y1="1823.5" x2="1260.3" y2="1814.5" stroke="#1a1a1a" stroke-width="4.5"/>
<line x1="278.5" y1="1706.5" x2="293.5" y2="1706.5" stroke="#1a1a1a" stroke-width="4.5"/><line x1="278.5" y1="1589.5" x2="293.5" y2="1589.5" stroke="#1a1a1a" stroke-width="4.5"/><line x1="278.5" y1="1472.5" x2="293.5" y2="1472.5" stroke="#1a1a1a" stroke-width="4.5"/><line x1="278.5" y1="1355.5" x2="293.5" y2="1355.5" stroke="#1a1a1a" stroke-width="4.5"/><line x1="278.5" y1="1238.5" x2="293.5" y2="1238.5" stroke="#1a1a1a" stroke-width="4.5"/><line x1="278.5" y1="1121.5" x2="293.5" y2="1121.5" stroke="#1a1a1a" stroke-width="4.5"/>
<line x1="278.5" y1="1765" x2="287.5" y2="1765" stroke="#1a1a1a" stroke-width="4.5"/><line x1="278.5" y1="1648" x2="287.5" y2="1648" stroke="#1a1a1a" stroke-width="4.5"/><line x1="278.5" y1="1531" x2="287.5" y2="1531" stroke="#1a1a1a" stroke-width="4.5"/><line x1="278.5" y1="1414" x2="287.5" y2="1414" stroke="#1a1a1a" stroke-width="4.5"/><line x1="278.5" y1="1297" x2="287.5" y2="1297" stroke="#1a1a1a" stroke-width="4.5"/><line x1="278.5" y1="1180" x2="287.5" y2="1180" stroke="#1a1a1a" stroke-width="4.5"/>
<text x="261" y="1840" font-size="56.5" text-anchor="end" fill="#000" font-weight="bold">0.6</text>
<text x="261" y="1723" font-size="56.5" text-anchor="end" fill="#000" font-weight="bold">0.8</text>
<text x="261" y="1606" font-size="56.5" text-anchor="end" fill="#000" font-weight="bold">1.0</text>
<text x="261" y="1489" font-size="56.5" text-anchor="end" fill="#000" font-weight="bold">1.2</text>
<text x="261" y="1372" font-size="56.5" text-anchor="end" fill="#000" font-weight="bold">1.4</text>
<text x="261" y="1255" font-size="56.5" text-anchor="end" fill="#000" font-weight="bold">1.6</text>
<text x="261" y="1138" font-size="56.5" text-anchor="end" fill="#000" font-weight="bold">1.8</text>
<text x="360.5" y="1884" font-size="56" text-anchor="middle" fill="#000" font-weight="bold">0</text>
<text x="524.1" y="1884" font-size="56" text-anchor="middle" fill="#000" font-weight="bold">20</text>
<text x="687.7" y="1884" font-size="56" text-anchor="middle" fill="#000" font-weight="bold">40</text>
<text x="851.3" y="1884" font-size="56" text-anchor="middle" fill="#000" font-weight="bold">60</text>
<text x="1014.9" y="1884" font-size="56" text-anchor="middle" fill="#000" font-weight="bold">80</text>
<text x="1178.5" y="1884" font-size="56" text-anchor="middle" fill="#000" font-weight="bold">100</text>
<text x="792" y="1962" font-size="57" text-anchor="middle" fill="#000" font-weight="bold" xml:space="preserve"><tspan>Specific capacity (</tspan><tspan font-family="'Liberation Serif', 'DejaVu Serif', serif" font-weight="normal">μ</tspan><tspan>Ah cm</tspan><tspan dy="-22.8" font-size="35.3">-2</tspan><tspan dy="22.8">)</tspan></text>
<text x="119" y="1481" font-size="57" text-anchor="middle" fill="#000" font-weight="bold" transform="rotate(-90 119 1481)">Potential (V)</text>
<path d="M360.5,1707.5C360.6,1701.2 360.8,1682.9 361,1670C361.2,1657.1 361.3,1649.2 362,1630C362.7,1610.8 363.7,1580 365,1555C366.3,1530 367.9,1502.5 370,1480C372.1,1457.5 374.3,1437.5 377.5,1420C380.7,1402.5 385.2,1388.3 389,1375C392.8,1361.7 396.5,1348.3 400,1340C403.5,1331.7 405.8,1329.2 410,1325C414.2,1320.8 419.2,1318.8 425,1315C430.8,1311.2 438.3,1306.8 445,1302.5C451.7,1298.2 458.3,1293.3 465,1289C471.7,1284.7 478.3,1280.7 485,1276.5C491.7,1272.3 498.3,1267.8 505,1264C511.7,1260.2 518.3,1256.8 525,1253.5C531.7,1250.2 538.3,1247.1 545,1244C551.7,1240.9 557.5,1238.2 565,1235C572.5,1231.8 581.7,1228.1 590,1225C598.3,1221.9 606.7,1219 615,1216.5C623.3,1214 631.7,1211.9 640,1210C648.3,1208.1 656.7,1206.5 665,1205C673.3,1203.5 681.7,1202.2 690,1201C698.3,1199.8 706.7,1198.6 715,1197.5C723.3,1196.4 731.7,1195.4 740,1194.5C748.3,1193.6 756.7,1192.8 765,1192C773.3,1191.2 781.7,1190.3 790,1189.5C798.3,1188.7 806.7,1187.8 815,1187C823.3,1186.2 831.7,1185.8 840,1185C848.3,1184.2 856.7,1183.3 865,1182.5C873.3,1181.7 881.7,1180.8 890,1180C898.3,1179.2 906.7,1178.3 915,1177.5C923.3,1176.7 931.7,1175.9 940,1175C948.3,1174.1 956.7,1173.2 965,1172C973.3,1170.8 981.7,1169.6 990,1168C998.3,1166.4 1006.7,1164.5 1015,1162.5C1023.3,1160.5 1031.7,1158.4 1040,1156C1048.3,1153.6 1056.7,1150.8 1065,1148C1073.3,1145.2 1081.7,1142 1090,1139C1098.3,1136 1107.5,1132.6 1115,1130C1122.5,1127.4 1129.8,1124.9 1135,1123.5C1140.2,1122.1 1144.2,1121.8 1146,1121.5" stroke="#ff1e1e" stroke-width="5" fill="none" stroke-linejoin="round" stroke-linecap="round"/>
<path d="M361,1123C361.1,1124.6 360.4,1128.2 361.5,1132.5C362.6,1136.8 365,1144.1 367.9,1149C370.8,1153.9 374.3,1157.5 378.8,1161.7C383.3,1165.9 389.2,1170.2 395,1174.4C400.8,1178.6 407.2,1183.2 413.3,1187C419.4,1190.8 425.5,1194 431.5,1197C437.5,1200 443.5,1202.7 449.5,1205.3C455.5,1207.9 461.7,1210.1 467.8,1212.5C473.8,1214.9 479.9,1217.4 485.9,1219.5C491.9,1221.6 497.9,1223.4 504,1225.2C510.1,1227.1 514.6,1228.7 522.2,1230.7C529.8,1232.7 539.9,1235.4 549.5,1237C559.1,1238.6 566.6,1239.2 580,1240.5C593.4,1241.8 613.3,1243.4 630,1245C646.7,1246.6 663.3,1248.3 680,1250C696.7,1251.7 713.3,1252.9 730,1255C746.7,1257.1 763.3,1259.6 780,1262.5C796.7,1265.4 816.7,1269.3 830,1272.5C843.3,1275.7 850.8,1278.2 860,1281.5C869.2,1284.8 876.7,1288.2 885,1292.5C893.3,1296.8 902.5,1301.7 910,1307.5C917.5,1313.3 923.3,1319.6 930,1327.5C936.7,1335.4 944.2,1345.4 950,1355C955.8,1364.6 960,1375 965,1385C970,1395 975,1406.2 980,1415C985,1423.8 990,1430 995,1437.5C1000,1445 1004.2,1450.4 1010,1460C1015.8,1469.6 1023.3,1481.7 1030,1495C1036.7,1508.3 1043.3,1523.3 1050,1540C1056.7,1556.7 1064.2,1577.5 1070,1595C1075.8,1612.5 1080.4,1630 1085,1645C1089.6,1660 1094.2,1674.6 1097.5,1685C1100.8,1695.4 1103.8,1703.8 1105,1707.5" stroke="#ff1e1e" stroke-width="5" fill="none" stroke-linejoin="round" stroke-linecap="round"/>
<path d="M360.5,1707.5C360.6,1701.2 360.8,1682.9 361,1670C361.2,1657.1 361.3,1649.2 362,1630C362.7,1610.8 363.7,1580 365,1555C366.3,1530 367.9,1502.5 370,1480C372.1,1457.5 374.6,1439.2 377.5,1420C380.4,1400.8 384.2,1379.2 387.5,1365C390.8,1350.8 394.2,1343.3 397.5,1335C400.8,1326.7 403.8,1320 407.5,1315C411.2,1310 414.6,1309.2 420,1305C425.4,1300.8 433.3,1295 440,1290C446.7,1285 453.3,1279.8 460,1275C466.7,1270.2 473.3,1265.7 480,1261.5C486.7,1257.3 493.3,1253.8 500,1250C506.7,1246.2 513.3,1242.3 520,1239C526.7,1235.7 533.3,1232.8 540,1230C546.7,1227.2 553.3,1224.8 560,1222.5C566.7,1220.2 572.5,1218.2 580,1216C587.5,1213.8 596.7,1211.1 605,1209C613.3,1206.9 621.7,1205.2 630,1203.5C638.3,1201.8 646.7,1200.4 655,1199C663.3,1197.6 671.7,1196.3 680,1195C688.3,1193.7 696.7,1192.3 705,1191C713.3,1189.7 721.7,1188.3 730,1187C738.3,1185.7 746.7,1184.3 755,1183C763.3,1181.7 771.7,1180.3 780,1179C788.3,1177.7 796.7,1176.3 805,1175C813.3,1173.7 821.7,1172.3 830,1171C838.3,1169.7 846.7,1168.4 855,1167C863.3,1165.6 871.7,1164.1 880,1162.5C888.3,1160.9 896.7,1159.3 905,1157.5C913.3,1155.7 921.7,1153.8 930,1151.5C938.3,1149.2 946.7,1146.8 955,1144C963.3,1141.2 971.7,1138 980,1135C988.3,1132 997.7,1128.3 1005,1126C1012.3,1123.7 1020.8,1121.8 1024,1121" stroke="#1e8c1e" stroke-width="5" fill="none" stroke-linejoin="round" stroke-linecap="round"/>
<path d="M360,1123C360.1,1124.9 359.6,1130.2 360.3,1134.5C361,1138.8 362.4,1144.8 364.3,1149C366.2,1153.2 367.9,1156.1 371.5,1159.9C375.1,1163.7 380.6,1167.5 386,1171.7C391.4,1175.9 398.1,1181.2 404.2,1185.3C410.3,1189.4 416.3,1192.9 422.4,1196.2C428.4,1199.5 434.4,1202.6 440.5,1205.3C446.6,1208 452.6,1210 458.7,1212.5C464.8,1215 470.8,1217.9 476.8,1220.2C482.9,1222.5 488.9,1224.3 495,1226.2C501.1,1228.1 507.1,1229.9 513.1,1231.6C519.1,1233.3 525.2,1234.7 531.3,1236.2C537.4,1237.7 541.4,1239.7 549.5,1240.7C557.6,1241.8 566.6,1241 580,1242.5C593.4,1244 613.3,1247.5 630,1250C646.7,1252.5 663.3,1255 680,1257.5C696.7,1260 717.5,1262.9 730,1265C742.5,1267.1 746.7,1267.9 755,1270C763.3,1272.1 771.7,1274.2 780,1277.5C788.3,1280.8 796.7,1285 805,1290C813.3,1295 822.5,1300.8 830,1307.5C837.5,1314.2 844.2,1321.2 850,1330C855.8,1338.8 860,1348.8 865,1360C870,1371.2 875.8,1387.5 880,1397.5C884.2,1407.5 885.8,1412.1 890,1420C894.2,1427.9 900,1436.7 905,1445C910,1453.3 915,1460.8 920,1470C925,1479.2 930,1489.2 935,1500C940,1510.8 945,1521.7 950,1535C955,1548.3 960.4,1565 965,1580C969.6,1595 973.8,1610.8 977.5,1625C981.2,1639.2 984.2,1651.2 987.5,1665C990.8,1678.8 995.8,1700.4 997.5,1707.5" stroke="#1e8c1e" stroke-width="5" fill="none" stroke-linejoin="round" stroke-linecap="round"/>
<path d="M360.5,1707.5C360.6,1701.2 360.8,1682.9 361,1670C361.2,1657.1 361.3,1649.2 362,1630C362.7,1610.8 363.7,1580 365,1555C366.3,1530 367.9,1502.5 370,1480C372.1,1457.5 374.6,1439.2 377.5,1420C380.4,1400.8 384.2,1380 387.5,1365C390.8,1350 394.6,1339.2 397.5,1330C400.4,1320.8 402.1,1315 405,1310C407.9,1305 410.8,1303.8 415,1300C419.2,1296.2 424.2,1292.1 430,1287.5C435.8,1282.9 443.3,1277.5 450,1272.5C456.7,1267.5 463.3,1262.1 470,1257.5C476.7,1252.9 483.3,1249 490,1245C496.7,1241 503.3,1237 510,1233.5C516.7,1230 522.5,1227.2 530,1224C537.5,1220.8 546.7,1217.2 555,1214C563.3,1210.8 571.7,1207.8 580,1205C588.3,1202.2 596.7,1199.8 605,1197.5C613.3,1195.2 621.7,1193.1 630,1191C638.3,1188.9 646.7,1186.8 655,1185C663.3,1183.2 671.7,1181.7 680,1180C688.3,1178.3 696.7,1176.7 705,1175C713.3,1173.3 721.7,1171.7 730,1170C738.3,1168.3 746.7,1166.7 755,1165C763.3,1163.3 771.7,1161.7 780,1160C788.3,1158.3 796.7,1156.7 805,1155C813.3,1153.3 821.7,1151.8 830,1150C838.3,1148.2 846.7,1146.1 855,1144C863.3,1141.9 871.7,1139.7 880,1137.5C888.3,1135.3 896.7,1133.1 905,1131C913.3,1128.9 922.9,1126.7 930,1125C937.1,1123.3 944.6,1121.7 947.5,1121" stroke="#2828ff" stroke-width="5" fill="none" stroke-linejoin="round" stroke-linecap="round"/>
<path d="M358.8,1118C358.8,1122.2 357.9,1136.2 358.8,1143.5C359.7,1150.8 361.2,1156 364.2,1161.7C367.3,1167.5 371.9,1172.9 377,1178C382.1,1183.1 388.9,1188.2 395,1192.5C401.1,1196.8 407.2,1200.3 413.3,1203.5C419.4,1206.7 425.5,1209.1 431.5,1211.7C437.5,1214.2 443.5,1216.6 449.5,1218.9C455.5,1221.2 461.7,1223.3 467.8,1225.2C473.8,1227.2 479.9,1229 485.9,1230.7C491.9,1232.4 496.4,1233.7 504,1235.2C511.6,1236.8 523.7,1238.6 531.3,1239.8C538.9,1241 541.4,1241.3 549.5,1242.2C557.6,1243 570.8,1243.9 580,1245C589.2,1246.1 596.7,1247.6 605,1249C613.3,1250.4 621.7,1251.9 630,1253.5C638.3,1255.1 646.7,1256.8 655,1258.5C663.3,1260.2 671.7,1261.9 680,1264C688.3,1266.1 696.7,1268.3 705,1271C713.3,1273.7 721.7,1276.4 730,1280C738.3,1283.6 747.5,1287.9 755,1292.5C762.5,1297.1 769.2,1302.5 775,1307.5C780.8,1312.5 785,1316.2 790,1322.5C795,1328.8 800,1336.2 805,1345C810,1353.8 815.8,1365.8 820,1375C824.2,1384.2 826.7,1392.1 830,1400C833.3,1407.9 835.8,1414.2 840,1422.5C844.2,1430.8 850,1440.8 855,1450C860,1459.2 865,1467.5 870,1477.5C875,1487.5 880,1497.9 885,1510C890,1522.1 895.4,1535.8 900,1550C904.6,1564.2 908.8,1580 912.5,1595C916.2,1610 919.6,1625.8 922.5,1640C925.4,1654.2 927.9,1668.8 930,1680C932.1,1691.2 934.2,1702.9 935,1707.5" stroke="#2828ff" stroke-width="5" fill="none" stroke-linejoin="round" stroke-linecap="round"/>
<path d="M360.5,1707.5C360.6,1701.2 360.8,1682.9 361,1670C361.2,1657.1 361.3,1649.2 362,1630C362.7,1610.8 363.7,1580 365,1555C366.3,1530 367.9,1502.5 370,1480C372.1,1457.5 374.6,1439.2 377.5,1420C380.4,1400.8 384.2,1381.7 387.5,1365C390.8,1348.3 394.6,1332.5 397.5,1320C400.4,1307.5 402.1,1298.3 405,1290C407.9,1281.7 410.8,1275.8 415,1270C419.2,1264.2 424.2,1260 430,1255C435.8,1250 443.3,1244.6 450,1240C456.7,1235.4 463.3,1231.2 470,1227.5C476.7,1223.8 483.3,1220.7 490,1217.5C496.7,1214.3 503.3,1211 510,1208.5C516.7,1206 522.5,1204.8 530,1202.5C537.5,1200.2 546.7,1197.3 555,1195C563.3,1192.7 571.7,1190.6 580,1188.5C588.3,1186.4 596.7,1184.2 605,1182.5C613.3,1180.8 621.7,1179.4 630,1178C638.3,1176.6 646.7,1175.3 655,1174C663.3,1172.7 671.7,1171.3 680,1170C688.3,1168.7 696.7,1167.3 705,1166C713.3,1164.7 721.7,1163.3 730,1162C738.3,1160.7 746.7,1159.4 755,1158C763.3,1156.6 771.7,1155.1 780,1153.5C788.3,1151.9 796.7,1150.3 805,1148.5C813.3,1146.7 821.7,1144.6 830,1142.5C838.3,1140.4 846.7,1138.3 855,1136C863.3,1133.7 872.5,1130.8 880,1128.5C887.5,1126.2 895.2,1123.8 900,1122.5C904.8,1121.2 907.5,1121.2 909,1121" stroke="#ff8c1e" stroke-width="5" fill="none" stroke-linejoin="round" stroke-linecap="round"/>
<path d="M360,1123C360.1,1124.9 359.6,1130.2 360.3,1134.5C361,1138.8 362.4,1144.8 364.3,1149C366.2,1153.2 367.9,1156.1 371.5,1159.9C375.1,1163.7 380.6,1167.5 386,1171.7C391.4,1175.9 398.1,1181.2 404.2,1185.3C410.3,1189.4 416.3,1192.9 422.4,1196.2C428.4,1199.5 434.4,1202.6 440.5,1205.3C446.6,1208 452.6,1210 458.7,1212.5C464.8,1215 470.8,1217.9 476.8,1220.2C482.9,1222.5 488.9,1224.3 495,1226.2C501.1,1228.1 507.1,1229.9 513.1,1231.6C519.1,1233.3 525.2,1234.7 531.3,1236.2C537.4,1237.7 541.4,1238.8 549.5,1240.7C557.6,1242.6 570.8,1245.5 580,1247.5C589.2,1249.5 596.7,1250.8 605,1252.5C613.3,1254.2 621.7,1255.6 630,1257.5C638.3,1259.4 646.7,1261.5 655,1264C663.3,1266.5 672.5,1269.4 680,1272.5C687.5,1275.6 694.2,1279.2 700,1282.5C705.8,1285.8 710,1288.3 715,1292.5C720,1296.7 725,1301.2 730,1307.5C735,1313.8 740.8,1322.9 745,1330C749.2,1337.1 751.7,1342.5 755,1350C758.3,1357.5 761.7,1366.7 765,1375C768.3,1383.3 771.7,1392.5 775,1400C778.3,1407.5 781.7,1413.8 785,1420C788.3,1426.2 790.8,1430.8 795,1437.5C799.2,1444.2 805,1452.5 810,1460C815,1467.5 820,1474.2 825,1482.5C830,1490.8 835,1499.6 840,1510C845,1520.4 850,1531.7 855,1545C860,1558.3 865,1574.2 870,1590C875,1605.8 880.4,1624.2 885,1640C889.6,1655.8 894.2,1673.8 897.5,1685C900.8,1696.2 903.8,1703.8 905,1707.5" stroke="#ff8c1e" stroke-width="5" fill="none" stroke-linejoin="round" stroke-linecap="round"/>
<text x="880" y="1769" font-size="46" text-anchor="start" fill="#ff8c1e" font-weight="bold">3</text>
<text x="939" y="1769" font-size="46" text-anchor="start" fill="#2828ff" font-weight="bold">2</text>
<text x="987" y="1769" font-size="46" text-anchor="start" fill="#1e8c1e" font-weight="bold">1</text>
<text x="1033" y="1769" font-size="46" text-anchor="start" fill="#ff1e1e" font-weight="bold" xml:space="preserve"><tspan>0.8 mA cm</tspan><tspan dy="-18.4" font-size="28.5">-2</tspan></text>
<line x1="1220" y1="1791.5" x2="800" y2="1791.5" stroke="#8c1eff" stroke-width="5"/>
<polygon points="772,1791.5 806,1782 806,1801" fill="#8c1eff"/>
<text x="73" y="1041" font-size="112" text-anchor="start" fill="#000" font-weight="bold">d</text>
<rect x="1320" y="1040" width="1250" height="930" fill="#fdfdfd" stroke="none" stroke-width="0"/>
<rect x="1533.5" y="1062.5" width="1020.5" height="761" fill="#fdfdfd" stroke="#1a1a1a" stroke-width="5.5"/>
<line x1="1661" y1="1823.5" x2="1661" y2="1808.5" stroke="#1a1a1a" stroke-width="4.5"/><line x1="1915.5" y1="1823.5" x2="1915.5" y2="1808.5" stroke="#1a1a1a" stroke-width="4.5"/><line x1="2170" y1="1823.5" x2="2170" y2="1808.5" stroke="#1a1a1a" stroke-width="4.5"/><line x1="2424.5" y1="1823.5" x2="2424.5" y2="1808.5" stroke="#1a1a1a" stroke-width="4.5"/>
<line x1="1788.2" y1="1823.5" x2="1788.2" y2="1814.5" stroke="#1a1a1a" stroke-width="4.5"/><line x1="2042.8" y1="1823.5" x2="2042.8" y2="1814.5" stroke="#1a1a1a" stroke-width="4.5"/><line x1="2297.2" y1="1823.5" x2="2297.2" y2="1814.5" stroke="#1a1a1a" stroke-width="4.5"/>
<line x1="1533.5" y1="1761" x2="1548.5" y2="1761" stroke="#1a1a1a" stroke-width="4.5"/><line x1="1533.5" y1="1634" x2="1548.5" y2="1634" stroke="#1a1a1a" stroke-width="4.5"/><line x1="1533.5" y1="1507" x2="1548.5" y2="1507" stroke="#1a1a1a" stroke-width="4.5"/><line x1="1533.5" y1="1380" x2="1548.5" y2="1380" stroke="#1a1a1a" stroke-width="4.5"/><line x1="1533.5" y1="1253" x2="1548.5" y2="1253" stroke="#1a1a1a" stroke-width="4.5"/><line x1="1533.5" y1="1126" x2="1548.5" y2="1126" stroke="#1a1a1a" stroke-width="4.5"/>
<line x1="1533.5" y1="1697.5" x2="1542.5" y2="1697.5" stroke="#1a1a1a" stroke-width="4.5"/><line x1="1533.5" y1="1570.5" x2="1542.5" y2="1570.5" stroke="#1a1a1a" stroke-width="4.5"/><line x1="1533.5" y1="1443.5" x2="1542.5" y2="1443.5" stroke="#1a1a1a" stroke-width="4.5"/><line x1="1533.5" y1="1316.5" x2="1542.5" y2="1316.5" stroke="#1a1a1a" stroke-width="4.5"/><line x1="1533.5" y1="1189.5" x2="1542.5" y2="1189.5" stroke="#1a1a1a" stroke-width="4.5"/>
<text x="1513.5" y="1777.5" font-size="56.5" text-anchor="end" fill="#000" font-weight="bold">0.8</text>
<text x="1513.5" y="1650.5" font-size="56.5" text-anchor="end" fill="#000" font-weight="bold">1.0</text>
<text x="1513.5" y="1523.5" font-size="56.5" text-anchor="end" fill="#000" font-weight="bold">1.2</text>
<text x="1513.5" y="1396.5" font-size="56.5" text-anchor="end" fill="#000" font-weight="bold">1.4</text>
<text x="1513.5" y="1269.5" font-size="56.5" text-anchor="end" fill="#000" font-weight="bold">1.6</text>
<text x="1513.5" y="1142.5" font-size="56.5" text-anchor="end" fill="#000" font-weight="bold">1.8</text>
<text x="1661" y="1884" font-size="56" text-anchor="middle" fill="#000" font-weight="bold">0</text>
<text x="1915.5" y="1884" font-size="56" text-anchor="middle" fill="#000" font-weight="bold">20</text>
<text x="2170" y="1884" font-size="56" text-anchor="middle" fill="#000" font-weight="bold">40</text>
<text x="2424.5" y="1884" font-size="56" text-anchor="middle" fill="#000" font-weight="bold">60</text>
<text x="2007" y="1962" font-size="57" text-anchor="middle" fill="#000" font-weight="bold" xml:space="preserve"><tspan>Specific capacity (</tspan><tspan font-family="'Liberation Serif', 'DejaVu Serif', serif" font-weight="normal">μ</tspan><tspan>Ah cm</tspan><tspan dy="-22.8" font-size="35.3">-2</tspan><tspan dy="22.8">)</tspan></text>
<text x="1374" y="1481" font-size="57" text-anchor="middle" fill="#000" font-weight="bold" transform="rotate(-90 1374 1481)">Potential (V)</text>
<path d="M1661,1760.5C1661.1,1755.4 1661.2,1743.4 1661.5,1730C1661.8,1716.6 1661.8,1700.8 1662.5,1680C1663.2,1659.2 1664.3,1630 1666,1605C1667.7,1580 1669.4,1555 1672.5,1530C1675.6,1505 1680.4,1478.3 1684.5,1455C1688.6,1431.7 1692.8,1408.3 1697,1390C1701.2,1371.7 1705.3,1357.5 1709.5,1345C1713.7,1332.5 1718.2,1322.5 1722,1315C1725.8,1307.5 1727.8,1304.6 1732,1300C1736.2,1295.4 1741.2,1291.7 1747,1287.5C1752.8,1283.3 1759.5,1279.6 1767,1275C1774.5,1270.4 1783.7,1264.8 1792,1260C1800.3,1255.2 1808.7,1250.2 1817,1246C1825.3,1241.8 1833.7,1238.5 1842,1235C1850.3,1231.5 1858.7,1228.1 1867,1225C1875.3,1221.9 1883.7,1219 1892,1216.5C1900.3,1214 1908.7,1212.1 1917,1210C1925.3,1207.9 1933.6,1205.8 1942,1204C1950.4,1202.2 1959,1200.5 1967.1,1199C1975.2,1197.5 1978,1196.9 1990.4,1195C2002.8,1193.1 2024.4,1189.8 2041.6,1187.5C2058.8,1185.2 2076.1,1183.3 2093.6,1181.5C2111.1,1179.7 2128.7,1178.2 2146.4,1176.5C2164.1,1174.8 2182,1173.2 2200,1171.5C2218,1169.8 2236.1,1168.2 2254.4,1166.5C2272.7,1164.8 2291.1,1163.4 2309.6,1161.5C2328.1,1159.6 2346.8,1157.6 2365.6,1155C2384.4,1152.4 2403.4,1149.2 2422.4,1146C2441.5,1142.8 2466.5,1138.4 2480,1136C2493.5,1133.6 2496.3,1133 2503.3,1131.5C2510.3,1130 2518.9,1127.8 2522,1127" stroke="#ff8c1e" stroke-width="5" fill="none" stroke-linejoin="round" stroke-linecap="round"/>
<path d="M1661,1139C1661.2,1140.8 1661.4,1146.1 1662.5,1150C1663.6,1153.9 1665,1157.9 1667.5,1162.5C1670,1167.1 1672.9,1172.5 1677.5,1177.5C1682.1,1182.5 1687.9,1187.8 1695,1192.5C1702.1,1197.2 1710.8,1201.8 1720,1206C1729.2,1210.2 1740,1214.1 1750,1217.5C1760,1220.9 1769.2,1223.6 1780,1226.5C1790.8,1229.4 1803.3,1232.6 1815,1235C1826.7,1237.4 1837.5,1238.9 1850,1241C1862.5,1243.1 1875,1245.3 1890,1247.5C1905,1249.7 1923.3,1251.9 1940,1254C1956.7,1256.1 1973.3,1257.9 1990,1260C2006.7,1262.1 2023.3,1264.2 2040,1266.5C2056.7,1268.8 2073.3,1270.9 2090,1274C2106.7,1277.1 2127.5,1281.9 2140,1285C2152.5,1288.1 2156.7,1289.6 2165,1292.5C2173.3,1295.4 2181.7,1298.9 2190,1302.5C2198.3,1306.1 2206.7,1309.4 2215,1314C2223.3,1318.6 2229.7,1324 2240,1330C2250.3,1336 2268.5,1344.2 2276.7,1350C2284.8,1355.8 2283.6,1358.3 2288.7,1365C2293.7,1371.7 2300.8,1380.8 2307.1,1390C2313.3,1399.2 2319.8,1410 2326.1,1420C2332.4,1430 2338.9,1440.8 2345.2,1450C2351.4,1459.2 2356.6,1466.7 2363.5,1475C2370.5,1483.3 2379.1,1491.7 2386.9,1500C2394.7,1508.3 2402.4,1515.8 2410.3,1525C2418.2,1534.2 2426.9,1543.3 2434.3,1555C2441.8,1566.7 2448.2,1580 2455,1595C2461.8,1610 2468.3,1627.5 2475,1645C2481.7,1662.5 2489.2,1684.2 2495,1700C2500.8,1715.8 2506,1729.9 2510,1740C2514,1750.1 2517.5,1757.1 2519,1760.5" stroke="#ff8c1e" stroke-width="5" fill="none" stroke-linejoin="round" stroke-linecap="round"/>
<path d="M1661,1760.5C1661.1,1755.4 1661.2,1743.4 1661.5,1730C1661.8,1716.6 1661.8,1700.8 1662.5,1680C1663.2,1659.2 1664.3,1630 1666,1605C1667.7,1580 1669.4,1555 1672.5,1530C1675.6,1505 1680.4,1478.3 1684.5,1455C1688.6,1431.7 1692.8,1408.3 1697,1390C1701.2,1371.7 1705.3,1357.5 1709.5,1345C1713.7,1332.5 1718.2,1322.5 1722,1315C1725.8,1307.5 1727.8,1304.6 1732,1300C1736.2,1295.4 1741.2,1291.7 1747,1287.5C1752.8,1283.3 1759.5,1279.6 1767,1275C1774.5,1270.4 1783.7,1264.8 1792,1260C1800.3,1255.2 1808.7,1250.2 1817,1246C1825.3,1241.8 1833.7,1238.5 1842,1235C1850.3,1231.5 1858.7,1228.1 1867,1225C1875.3,1221.9 1883.7,1219 1892,1216.5C1900.3,1214 1908.7,1212.1 1917,1210C1925.3,1207.9 1933.7,1205.8 1942,1204C1950.3,1202.2 1959,1200.5 1967.1,1199C1975.2,1197.5 1978,1196.9 1990.4,1195C2002.8,1193.1 2024.3,1189.8 2041.5,1187.5C2058.7,1185.2 2076,1183.3 2093.4,1181.5C2110.8,1179.7 2128.3,1178.2 2146,1176.5C2163.7,1174.8 2181.4,1173.2 2199.4,1171.5C2217.3,1169.8 2235.3,1168.2 2253.5,1166.5C2271.6,1164.8 2289.9,1163.4 2308.3,1161.5C2326.7,1159.6 2345.3,1157.6 2363.9,1155C2382.6,1152.4 2401.4,1149.2 2420.3,1146C2439.2,1142.8 2464.1,1138.4 2477.4,1136C2490.8,1133.6 2493.5,1133 2500.5,1131.5C2507.4,1130 2515.9,1127.8 2519,1127" stroke="#1e961e" stroke-width="5" fill="none" stroke-linejoin="round" stroke-linecap="round"/>
<path d="M1661,1139C1661.2,1140.8 1661.4,1146.1 1662.5,1150C1663.6,1153.9 1665,1157.9 1667.5,1162.5C1670,1167.1 1672.9,1172.5 1677.5,1177.5C1682.1,1182.5 1687.9,1187.8 1695,1192.5C1702.1,1197.2 1710.8,1201.8 1720,1206C1729.2,1210.2 1740,1214.1 1750,1217.5C1760,1220.9 1769.2,1223.6 1780,1226.5C1790.8,1229.4 1803.3,1232.6 1815,1235C1826.7,1237.4 1837.5,1238.9 1850,1241C1862.5,1243.1 1875,1245.3 1890,1247.5C1905,1249.7 1923.3,1251.9 1940,1254C1956.7,1256.1 1973.3,1257.9 1990,1260C2006.7,1262.1 2023.3,1264.2 2040,1266.5C2056.7,1268.8 2073.3,1270.9 2090,1274C2106.7,1277.1 2127.5,1281.9 2140,1285C2152.5,1288.1 2156.7,1289.6 2165,1292.5C2173.3,1295.4 2181.7,1298.9 2190,1302.5C2198.3,1306.1 2206.7,1309.4 2215,1314C2223.3,1318.6 2230.2,1324 2240,1330C2249.8,1336 2266.1,1344.2 2273.7,1350C2281.2,1355.8 2280.4,1358.3 2285.4,1365C2290.3,1371.7 2297.1,1380.8 2303.1,1390C2309.1,1399.2 2315.3,1410 2321.5,1420C2327.6,1430 2333.8,1440.8 2339.8,1450C2345.8,1459.2 2350.8,1466.7 2357.6,1475C2364.3,1483.3 2372.7,1491.7 2380.3,1500C2387.9,1508.3 2395.4,1515.8 2403.1,1525C2410.8,1534.2 2419.1,1543.3 2426.4,1555C2433.8,1566.7 2440.2,1580 2447,1595C2453.8,1610 2460.3,1627.5 2467,1645C2473.7,1662.5 2481.2,1684.2 2487,1700C2492.8,1715.8 2498,1729.9 2502,1740C2506,1750.1 2509.5,1757.1 2511,1760.5" stroke="#1e961e" stroke-width="5" fill="none" stroke-linejoin="round" stroke-linecap="round"/>
<path d="M1661,1760.5C1661.1,1755.4 1661.2,1743.4 1661.5,1730C1661.8,1716.6 1661.8,1700.8 1662.5,1680C1663.2,1659.2 1664.3,1630 1666,1605C1667.7,1580 1669.4,1555 1672.5,1530C1675.6,1505 1680.4,1478.3 1684.5,1455C1688.6,1431.7 1692.8,1408.3 1697,1390C1701.2,1371.7 1705.3,1357.5 1709.5,1345C1713.7,1332.5 1718.2,1322.5 1722,1315C1725.8,1307.5 1727.8,1304.6 1732,1300C1736.2,1295.4 1741.2,1291.7 1747,1287.5C1752.8,1283.3 1759.5,1279.6 1767,1275C1774.5,1270.4 1783.7,1264.8 1792,1260C1800.3,1255.2 1808.7,1250.2 1817,1246C1825.3,1241.8 1833.7,1238.5 1842,1235C1850.3,1231.5 1858.7,1228.1 1867,1225C1875.3,1221.9 1883.7,1219 1892,1216.5C1900.3,1214 1908.7,1212.1 1917,1210C1925.3,1207.9 1933.7,1205.8 1942,1204C1950.3,1202.2 1959,1200.5 1967.1,1199C1975.1,1197.5 1978,1196.9 1990.4,1195C2002.7,1193.1 2024.3,1189.8 2041.4,1187.5C2058.6,1185.2 2075.8,1183.3 2093.2,1181.5C2110.6,1179.7 2128.1,1178.2 2145.7,1176.5C2163.3,1174.8 2181.1,1173.2 2198.9,1171.5C2216.8,1169.8 2234.8,1168.2 2252.8,1166.5C2270.9,1164.8 2289.2,1163.4 2307.5,1161.5C2325.8,1159.6 2344.3,1157.6 2362.8,1155C2381.4,1152.4 2400.1,1149.2 2418.9,1146C2437.7,1142.8 2462.4,1138.4 2475.7,1136C2489,1133.6 2491.7,1133 2498.6,1131.5C2505.5,1130 2513.9,1127.8 2517,1127" stroke="#8c8c00" stroke-width="5" fill="none" stroke-linejoin="round" stroke-linecap="round"/>
<path d="M1661,1139C1661.2,1140.8 1661.4,1146.1 1662.5,1150C1663.6,1153.9 1665,1157.9 1667.5,1162.5C1670,1167.1 1672.9,1172.5 1677.5,1177.5C1682.1,1182.5 1687.9,1187.8 1695,1192.5C1702.1,1197.2 1710.8,1201.8 1720,1206C1729.2,1210.2 1740,1214.1 1750,1217.5C1760,1220.9 1769.2,1223.6 1780,1226.5C1790.8,1229.4 1803.3,1232.6 1815,1235C1826.7,1237.4 1837.5,1238.9 1850,1241C1862.5,1243.1 1875,1245.3 1890,1247.5C1905,1249.7 1923.3,1251.9 1940,1254C1956.7,1256.1 1973.3,1257.9 1990,1260C2006.7,1262.1 2023.3,1264.2 2040,1266.5C2056.7,1268.8 2073.3,1270.9 2090,1274C2106.7,1277.1 2127.5,1281.9 2140,1285C2152.5,1288.1 2156.7,1289.6 2165,1292.5C2173.3,1295.4 2181.7,1298.9 2190,1302.5C2198.3,1306.1 2206.7,1309.4 2215,1314C2223.3,1318.6 2230.3,1324 2240,1330C2249.7,1336 2265.5,1344.2 2272.9,1350C2280.4,1355.8 2279.7,1358.3 2284.5,1365C2289.4,1371.7 2296.2,1380.8 2302.2,1390C2308.1,1399.2 2314.2,1410 2320.3,1420C2326.4,1430 2332.5,1440.8 2338.4,1450C2344.4,1459.2 2349.4,1466.7 2356.1,1475C2362.8,1483.3 2371.2,1491.7 2378.7,1500C2386.2,1508.3 2393.7,1515.8 2401.3,1525C2409,1534.2 2417.2,1543.3 2424.5,1555C2431.8,1566.7 2438.2,1580 2445,1595C2451.8,1610 2458.3,1627.5 2465,1645C2471.7,1662.5 2479.2,1684.2 2485,1700C2490.8,1715.8 2496,1729.9 2500,1740C2504,1750.1 2507.5,1757.1 2509,1760.5" stroke="#8c8c00" stroke-width="5" fill="none" stroke-linejoin="round" stroke-linecap="round"/>
<path d="M1661,1760.5C1661.1,1755.4 1661.2,1743.4 1661.5,1730C1661.8,1716.6 1661.8,1700.8 1662.5,1680C1663.2,1659.2 1664.3,1630 1666,1605C1667.7,1580 1669.8,1555 1672.5,1530C1675.2,1505 1678.8,1478.3 1682.5,1455C1686.2,1431.7 1690.8,1408.3 1695,1390C1699.2,1371.7 1703.3,1357.5 1707.5,1345C1711.7,1332.5 1716.2,1322.5 1720,1315C1723.8,1307.5 1725.8,1304.6 1730,1300C1734.2,1295.4 1739.2,1291.7 1745,1287.5C1750.8,1283.3 1757.5,1279.6 1765,1275C1772.5,1270.4 1781.7,1264.8 1790,1260C1798.3,1255.2 1806.7,1250.2 1815,1246C1823.3,1241.8 1831.7,1238.5 1840,1235C1848.3,1231.5 1856.7,1228.1 1865,1225C1873.3,1221.9 1881.7,1219 1890,1216.5C1898.3,1214 1906.7,1212.1 1915,1210C1923.3,1207.9 1931.7,1205.8 1940,1204C1948.3,1202.2 1956.7,1200.5 1965,1199C1973.4,1197.5 1977.5,1196.9 1990.1,1195C2002.7,1193.1 2023.7,1189.8 2040.5,1187.5C2057.3,1185.2 2074.2,1183.3 2091.1,1181.5C2108,1179.7 2125,1178.2 2141.9,1176.5C2158.9,1174.8 2176,1173.2 2193,1171.5C2210.1,1169.8 2227.2,1168.2 2244.4,1166.5C2261.5,1164.8 2278.7,1163.4 2296,1161.5C2313.2,1159.6 2330.5,1157.6 2347.8,1155C2365.1,1152.4 2382.5,1149.2 2399.9,1146C2417.3,1142.8 2440,1138.4 2452.2,1136C2464.4,1133.6 2466.9,1133 2473.2,1131.5C2479.5,1130 2487.2,1127.8 2490,1127" stroke="#1e1eb4" stroke-width="5" fill="none" stroke-linejoin="round" stroke-linecap="round"/>
<path d="M1661,1139C1661.2,1140.8 1661.4,1146.1 1662.5,1150C1663.6,1153.9 1665,1157.9 1667.5,1162.5C1670,1167.1 1672.9,1172.5 1677.5,1177.5C1682.1,1182.5 1687.9,1187.8 1695,1192.5C1702.1,1197.2 1710.8,1201.8 1720,1206C1729.2,1210.2 1740,1214.1 1750,1217.5C1760,1220.9 1769.2,1223.6 1780,1226.5C1790.8,1229.4 1803.3,1232.6 1815,1235C1826.7,1237.4 1837.5,1238.9 1850,1241C1862.5,1243.1 1875,1245.3 1890,1247.5C1905,1249.7 1923.3,1251.9 1940,1254C1956.7,1256.1 1973.3,1257.9 1990,1260C2006.7,1262.1 2023.3,1264.2 2040,1266.5C2056.7,1268.8 2073.3,1270.9 2090,1274C2106.7,1277.1 2127.5,1281.9 2140,1285C2152.5,1288.1 2156.7,1289.6 2165,1292.5C2173.3,1295.4 2181.7,1298.9 2190,1302.5C2198.3,1306.1 2206.7,1309.4 2215,1314C2223.3,1318.6 2231.6,1324 2240,1330C2248.4,1336 2259.5,1344.2 2265.6,1350C2271.6,1355.8 2271.8,1358.3 2276.2,1365C2280.7,1371.7 2286.9,1380.8 2292.3,1390C2297.8,1399.2 2303.2,1410 2308.7,1420C2314.1,1430 2319.6,1440.8 2325.1,1450C2330.5,1459.2 2335,1466.7 2341.2,1475C2347.4,1483.3 2355.3,1491.7 2362.3,1500C2369.3,1508.3 2376.3,1515.8 2383.4,1525C2390.5,1534.2 2397.8,1543.3 2404.8,1555C2411.7,1566.7 2418.3,1580 2425,1595C2431.7,1610 2438.3,1627.5 2445,1645C2451.7,1662.5 2459.2,1684.2 2465,1700C2470.8,1715.8 2476,1729.9 2480,1740C2484,1750.1 2487.5,1757.1 2489,1760.5" stroke="#1e1eb4" stroke-width="5" fill="none" stroke-linejoin="round" stroke-linecap="round"/>
<path d="M1661,1760.5C1661.1,1755.4 1661.2,1743.4 1661.5,1730C1661.8,1716.6 1661.8,1700.8 1662.5,1680C1663.2,1659.2 1664.3,1630 1666,1605C1667.7,1580 1669.8,1555 1672.5,1530C1675.2,1505 1678.8,1478.3 1682.5,1455C1686.2,1431.7 1690.8,1408.3 1695,1390C1699.2,1371.7 1703.3,1357.5 1707.5,1345C1711.7,1332.5 1716.2,1322.5 1720,1315C1723.8,1307.5 1725.8,1304.6 1730,1300C1734.2,1295.4 1739.2,1291.7 1745,1287.5C1750.8,1283.3 1757.5,1279.6 1765,1275C1772.5,1270.4 1781.7,1264.8 1790,1260C1798.3,1255.2 1806.7,1250.2 1815,1246C1823.3,1241.8 1831.7,1238.5 1840,1235C1848.3,1231.5 1856.7,1228.1 1865,1225C1873.3,1221.9 1881.7,1219 1890,1216.5C1898.3,1214 1906.7,1212.1 1915,1210C1923.3,1207.9 1931.7,1205.8 1940,1204C1948.3,1202.2 1956.7,1200.5 1965,1199C1973.3,1197.5 1977.5,1196.9 1990,1195C2002.5,1193.1 2023.3,1189.8 2040,1187.5C2056.7,1185.2 2073.3,1183.3 2090,1181.5C2106.7,1179.7 2123.3,1178.2 2140,1176.5C2156.7,1174.8 2173.3,1173.2 2190,1171.5C2206.7,1169.8 2223.3,1168.2 2240,1166.5C2256.7,1164.8 2273.3,1163.4 2290,1161.5C2306.7,1159.6 2323.3,1157.6 2340,1155C2356.7,1152.4 2373.3,1149.2 2390,1146C2406.7,1142.8 2428.3,1138.4 2440,1136C2451.7,1133.6 2454,1133 2460,1131.5C2466,1130 2473.3,1127.8 2476,1127" stroke="#8c1e1e" stroke-width="5" fill="none" stroke-linejoin="round" stroke-linecap="round"/>
<path d="M1661,1139C1661.2,1140.8 1661.4,1146.1 1662.5,1150C1663.6,1153.9 1665,1157.9 1667.5,1162.5C1670,1167.1 1672.9,1172.5 1677.5,1177.5C1682.1,1182.5 1687.9,1187.8 1695,1192.5C1702.1,1197.2 1710.8,1201.8 1720,1206C1729.2,1210.2 1740,1214.1 1750,1217.5C1760,1220.9 1769.2,1223.6 1780,1226.5C1790.8,1229.4 1803.3,1232.6 1815,1235C1826.7,1237.4 1837.5,1238.9 1850,1241C1862.5,1243.1 1875,1245.3 1890,1247.5C1905,1249.7 1923.3,1251.9 1940,1254C1956.7,1256.1 1973.3,1257.9 1990,1260C2006.7,1262.1 2023.3,1264.2 2040,1266.5C2056.7,1268.8 2073.3,1270.9 2090,1274C2106.7,1277.1 2127.5,1281.9 2140,1285C2152.5,1288.1 2156.7,1289.6 2165,1292.5C2173.3,1295.4 2181.7,1298.9 2190,1302.5C2198.3,1306.1 2206.7,1309.4 2215,1314C2223.3,1318.6 2232.5,1324 2240,1330C2247.5,1336 2255,1344.2 2260,1350C2265,1355.8 2265.8,1358.3 2270,1365C2274.2,1371.7 2280,1380.8 2285,1390C2290,1399.2 2295,1410 2300,1420C2305,1430 2310,1440.8 2315,1450C2320,1459.2 2324.2,1466.7 2330,1475C2335.8,1483.3 2343.3,1491.7 2350,1500C2356.7,1508.3 2363.3,1515.8 2370,1525C2376.7,1534.2 2383.3,1543.3 2390,1555C2396.7,1566.7 2403.3,1580 2410,1595C2416.7,1610 2423.3,1627.5 2430,1645C2436.7,1662.5 2444.2,1684.2 2450,1700C2455.8,1715.8 2461,1729.9 2465,1740C2469,1750.1 2472.5,1757.1 2474,1760.5" stroke="#8c1e1e" stroke-width="5" fill="none" stroke-linejoin="round" stroke-linecap="round"/>
<line x1="1897" y1="1446" x2="1984" y2="1446" stroke="#ff8c1e" stroke-width="5.5" stroke-linecap="round"/>
<text x="1997.5" y="1461" font-size="45.5" text-anchor="start" fill="#000" font-weight="bold">Before</text>
<line x1="1897" y1="1504" x2="1984" y2="1504" stroke="#1e961e" stroke-width="5.5" stroke-linecap="round"/>
<text x="1997.5" y="1519" font-size="45.5" text-anchor="start" fill="#000" font-weight="bold">250 th</text>
<line x1="1897" y1="1562.5" x2="1984" y2="1562.5" stroke="#8c8c00" stroke-width="5.5" stroke-linecap="round"/>
<text x="1997.5" y="1577.5" font-size="45.5" text-anchor="start" fill="#000" font-weight="bold">500 th</text>
<line x1="1897" y1="1621.5" x2="1984" y2="1621.5" stroke="#1e1eb4" stroke-width="5.5" stroke-linecap="round"/>
<text x="1997.5" y="1636.5" font-size="45.5" text-anchor="start" fill="#000" font-weight="bold">750 th</text>
<line x1="1897" y1="1679" x2="1984" y2="1679" stroke="#8c1e1e" stroke-width="5.5" stroke-linecap="round"/>
<text x="1997.5" y="1694" font-size="45.5" text-anchor="start" fill="#000" font-weight="bold">1000 th</text>
<text x="1299" y="1039" font-size="112" text-anchor="start" fill="#000" font-weight="bold">e</text>
<rect x="0" y="1985" width="3926" height="914" fill="#fdfdfb" stroke="none" stroke-width="0"/>
<rect x="260" y="2025" width="3475" height="718" fill="#fdfdfb" stroke="#1a1a1a" stroke-width="4.6"/>
<line x1="507.5" y1="2743" x2="507.5" y2="2728" stroke="#1a1a1a" stroke-width="4"/><line x1="1004" y1="2743" x2="1004" y2="2728" stroke="#1a1a1a" stroke-width="4"/><line x1="1500.5" y1="2743" x2="1500.5" y2="2728" stroke="#1a1a1a" stroke-width="4"/><line x1="1997" y1="2743" x2="1997" y2="2728" stroke="#1a1a1a" stroke-width="4"/><line x1="2493.5" y1="2743" x2="2493.5" y2="2728" stroke="#1a1a1a" stroke-width="4"/><line x1="2990" y1="2743" x2="2990" y2="2728" stroke="#1a1a1a" stroke-width="4"/><line x1="3486.5" y1="2743" x2="3486.5" y2="2728" stroke="#1a1a1a" stroke-width="4"/>
<line x1="755.8" y1="2743" x2="755.8" y2="2735" stroke="#1a1a1a" stroke-width="4"/><line x1="1252.2" y1="2743" x2="1252.2" y2="2735" stroke="#1a1a1a" stroke-width="4"/><line x1="1748.8" y1="2743" x2="1748.8" y2="2735" stroke="#1a1a1a" stroke-width="4"/><line x1="2245.2" y1="2743" x2="2245.2" y2="2735" stroke="#1a1a1a" stroke-width="4"/><line x1="2741.8" y1="2743" x2="2741.8" y2="2735" stroke="#1a1a1a" stroke-width="4"/><line x1="3238.2" y1="2743" x2="3238.2" y2="2735" stroke="#1a1a1a" stroke-width="4"/>
<line x1="260" y1="2599" x2="275" y2="2599" stroke="#1a1a1a" stroke-width="4"/><line x1="260" y1="2455.5" x2="275" y2="2455.5" stroke="#1a1a1a" stroke-width="4"/><line x1="260" y1="2312" x2="275" y2="2312" stroke="#1a1a1a" stroke-width="4"/><line x1="260" y1="2168.5" x2="275" y2="2168.5" stroke="#1a1a1a" stroke-width="4"/>
<line x1="260" y1="2670.8" x2="268" y2="2670.8" stroke="#1a1a1a" stroke-width="4"/><line x1="260" y1="2527.2" x2="268" y2="2527.2" stroke="#1a1a1a" stroke-width="4"/><line x1="260" y1="2383.8" x2="268" y2="2383.8" stroke="#1a1a1a" stroke-width="4"/><line x1="260" y1="2240.2" x2="268" y2="2240.2" stroke="#1a1a1a" stroke-width="4"/><line x1="260" y1="2096.8" x2="268" y2="2096.8" stroke="#1a1a1a" stroke-width="4"/>
<line x1="3735" y1="2743.5" x2="3720" y2="2743.5" stroke="#1a1a1a" stroke-width="4"/><line x1="3735" y1="2613.1" x2="3720" y2="2613.1" stroke="#1a1a1a" stroke-width="4"/><line x1="3735" y1="2482.7" x2="3720" y2="2482.7" stroke="#1a1a1a" stroke-width="4"/><line x1="3735" y1="2352.3" x2="3720" y2="2352.3" stroke="#1a1a1a" stroke-width="4"/><line x1="3735" y1="2221.9" x2="3720" y2="2221.9" stroke="#1a1a1a" stroke-width="4"/><line x1="3735" y1="2091.5" x2="3720" y2="2091.5" stroke="#1a1a1a" stroke-width="4"/>
<line x1="3735" y1="2678.3" x2="3727" y2="2678.3" stroke="#1a1a1a" stroke-width="4"/><line x1="3735" y1="2547.9" x2="3727" y2="2547.9" stroke="#1a1a1a" stroke-width="4"/><line x1="3735" y1="2417.5" x2="3727" y2="2417.5" stroke="#1a1a1a" stroke-width="4"/><line x1="3735" y1="2287.1" x2="3727" y2="2287.1" stroke="#1a1a1a" stroke-width="4"/><line x1="3735" y1="2156.7" x2="3727" y2="2156.7" stroke="#1a1a1a" stroke-width="4"/>
<text x="243" y="2760.5" font-size="54" text-anchor="end" fill="#000" font-weight="bold">0</text>
<text x="3751" y="2761.5" font-size="54" text-anchor="start" fill="#000" font-weight="bold">0</text>
<text x="243" y="2617" font-size="54" text-anchor="end" fill="#000" font-weight="bold">20</text>
<text x="3751" y="2631.1" font-size="54" text-anchor="start" fill="#000" font-weight="bold">20</text>
<text x="243" y="2473.5" font-size="54" text-anchor="end" fill="#000" font-weight="bold">40</text>
<text x="3751" y="2500.7" font-size="54" text-anchor="start" fill="#000" font-weight="bold">40</text>
<text x="243" y="2330" font-size="54" text-anchor="end" fill="#000" font-weight="bold">60</text>
<text x="3751" y="2370.3" font-size="54" text-anchor="start" fill="#000" font-weight="bold">60</text>
<text x="243" y="2186.5" font-size="54" text-anchor="end" fill="#000" font-weight="bold">80</text>
<text x="3751" y="2239.9" font-size="54" text-anchor="start" fill="#000" font-weight="bold">80</text>
<text x="243" y="2043" font-size="54" text-anchor="end" fill="#000" font-weight="bold">100</text>
<text x="3751" y="2109.5" font-size="54" text-anchor="start" fill="#000" font-weight="bold">100</text>
<text x="507.5" y="2803" font-size="54" text-anchor="middle" fill="#000" font-weight="bold">0</text>
<text x="1004" y="2803" font-size="54" text-anchor="middle" fill="#000" font-weight="bold">50</text>
<text x="1500.5" y="2803" font-size="54" text-anchor="middle" fill="#000" font-weight="bold">100</text>
<text x="1997" y="2803" font-size="54" text-anchor="middle" fill="#000" font-weight="bold">150</text>
<text x="2493.5" y="2803" font-size="54" text-anchor="middle" fill="#000" font-weight="bold">200</text>
<text x="2990" y="2803" font-size="54" text-anchor="middle" fill="#000" font-weight="bold">250</text>
<text x="3486.5" y="2803" font-size="54" text-anchor="middle" fill="#000" font-weight="bold">300</text>
<text x="1998" y="2884" font-size="57" text-anchor="middle" fill="#000" font-weight="bold">Cycle number</text>
<text x="90" y="2427" font-size="57" text-anchor="middle" fill="#000" font-weight="bold" transform="rotate(-90 90 2427)" xml:space="preserve"><tspan>Capacity (</tspan><tspan font-family="'Liberation Serif', 'DejaVu Serif', serif" font-weight="normal">μ</tspan><tspan>Ah cm</tspan><tspan dy="-22.8" font-size="35.3">-2</tspan><tspan dy="22.8">)</tspan></text>
<text x="3912" y="2423" font-size="56.7" text-anchor="middle" fill="#000" font-weight="bold" transform="rotate(-90 3912 2423)">Coulomb efficiency(%)</text>
<circle cx="507.5" cy="2106" r="14.5" fill="url(#gTe)"/>
<circle cx="537.3" cy="2120" r="14.5" fill="url(#gTe)"/>
<circle cx="567.1" cy="2121" r="14.5" fill="url(#gTe)"/>
<circle cx="596.9" cy="2128.5" r="14.5" fill="url(#gTe)"/>
<circle cx="626.7" cy="2116.5" r="14.5" fill="url(#gTe)"/>
<circle cx="656.5" cy="2116.5" r="14.5" fill="url(#gTe)"/>
<circle cx="686.2" cy="2116.5" r="14.5" fill="url(#gTe)"/>
<circle cx="716" cy="2123.5" r="14.5" fill="url(#gTe)"/>
<circle cx="745.8" cy="2127.5" r="14.5" fill="url(#gTe)"/>
<circle cx="775.6" cy="2123.5" r="14.5" fill="url(#gTe)"/>
<circle cx="805.4" cy="2121" r="14.5" fill="url(#gTe)"/>
<circle cx="835.2" cy="2121.5" r="14.5" fill="url(#gTe)"/>
<circle cx="865" cy="2122" r="14.5" fill="url(#gTe)"/>
<circle cx="894.8" cy="2116.5" r="14.5" fill="url(#gTe)"/>
<circle cx="924.6" cy="2121.5" r="14.5" fill="url(#gTe)"/>
<circle cx="954.3" cy="2113.5" r="14.5" fill="url(#gTe)"/>
<circle cx="984.1" cy="2113.5" r="14.5" fill="url(#gTe)"/>
<circle cx="1013.9" cy="2113" r="14.5" fill="url(#gTe)"/>
<circle cx="1043.7" cy="2113" r="14.5" fill="url(#gTe)"/>
<circle cx="1073.5" cy="2110" r="14.5" fill="url(#gTe)"/>
<circle cx="1103.3" cy="2114" r="14.5" fill="url(#gTe)"/>
<circle cx="1133.1" cy="2114" r="14.5" fill="url(#gTe)"/>
<circle cx="1162.9" cy="2118.5" r="14.5" fill="url(#gTe)"/>
<circle cx="1192.7" cy="2113.5" r="14.5" fill="url(#gTe)"/>
<circle cx="1222.5" cy="2110.5" r="14.5" fill="url(#gTe)"/>
<circle cx="1252.2" cy="2110.5" r="14.5" fill="url(#gTe)"/>
<circle cx="1282" cy="2107" r="14.5" fill="url(#gTe)"/>
<circle cx="1311.8" cy="2110" r="14.5" fill="url(#gTe)"/>
<circle cx="1341.6" cy="2110" r="14.5" fill="url(#gTe)"/>
<circle cx="1371.4" cy="2111" r="14.5" fill="url(#gTe)"/>
<circle cx="1401.2" cy="2111" r="14.5" fill="url(#gTe)"/>
<circle cx="1431" cy="2115" r="14.5" fill="url(#gTe)"/>
<circle cx="1460.8" cy="2106" r="14.5" fill="url(#gTe)"/>
<circle cx="1490.6" cy="2111" r="14.5" fill="url(#gTe)"/>
<circle cx="1520.4" cy="2111" r="14.5" fill="url(#gTe)"/>
<circle cx="1550.1" cy="2115" r="14.5" fill="url(#gTe)"/>
<circle cx="1579.9" cy="2112.5" r="14.5" fill="url(#gTe)"/>
<circle cx="1609.7" cy="2107.5" r="14.5" fill="url(#gTe)"/>
<circle cx="1639.5" cy="2107.5" r="14.5" fill="url(#gTe)"/>
<circle cx="1669.3" cy="2107.5" r="14.5" fill="url(#gTe)"/>
<circle cx="1699.1" cy="2107.5" r="14.5" fill="url(#gTe)"/>
<circle cx="1728.9" cy="2107.5" r="14.5" fill="url(#gTe)"/>
<circle cx="1758.7" cy="2116" r="14.5" fill="url(#gTe)"/>
<circle cx="1788.5" cy="2106.5" r="14.5" fill="url(#gTe)"/>
<circle cx="1818.3" cy="2115" r="14.5" fill="url(#gTe)"/>
<circle cx="1848" cy="2107.5" r="14.5" fill="url(#gTe)"/>
<circle cx="1877.8" cy="2107.5" r="14.5" fill="url(#gTe)"/>
<circle cx="1907.6" cy="2107.5" r="14.5" fill="url(#gTe)"/>
<circle cx="1937.4" cy="2107.5" r="14.5" fill="url(#gTe)"/>
<circle cx="1967.2" cy="2098.5" r="14.5" fill="url(#gTe)"/>
<circle cx="1997" cy="2103.5" r="14.5" fill="url(#gTe)"/>
<circle cx="2026.8" cy="2094" r="14.5" fill="url(#gTe)"/>
<circle cx="2056.6" cy="2098.5" r="14.5" fill="url(#gTe)"/>
<circle cx="2086.4" cy="2108.5" r="14.5" fill="url(#gTe)"/>
<circle cx="2116.2" cy="2111" r="14.5" fill="url(#gTe)"/>
<circle cx="2145.9" cy="2111" r="14.5" fill="url(#gTe)"/>
<circle cx="2175.7" cy="2107.5" r="14.5" fill="url(#gTe)"/>
<circle cx="2205.5" cy="2107.5" r="14.5" fill="url(#gTe)"/>
<circle cx="2235.3" cy="2108.5" r="14.5" fill="url(#gTe)"/>
<circle cx="2265.1" cy="2107.5" r="14.5" fill="url(#gTe)"/>
<circle cx="2294.9" cy="2107.5" r="14.5" fill="url(#gTe)"/>
<circle cx="2324.7" cy="2107.5" r="14.5" fill="url(#gTe)"/>
<circle cx="2354.5" cy="2101.5" r="14.5" fill="url(#gTe)"/>
<circle cx="2384.3" cy="2101.5" r="14.5" fill="url(#gTe)"/>
<circle cx="2414.1" cy="2110" r="14.5" fill="url(#gTe)"/>
<circle cx="2443.8" cy="2113.5" r="14.5" fill="url(#gTe)"/>
<circle cx="2473.6" cy="2112.5" r="14.5" fill="url(#gTe)"/>
<circle cx="2503.4" cy="2117.5" r="14.5" fill="url(#gTe)"/>
<circle cx="2533.2" cy="2115" r="14.5" fill="url(#gTe)"/>
<circle cx="2563" cy="2111" r="14.5" fill="url(#gTe)"/>
<circle cx="2592.8" cy="2110" r="14.5" fill="url(#gTe)"/>
<circle cx="2622.6" cy="2105" r="14.5" fill="url(#gTe)"/>
<circle cx="2652.4" cy="2110" r="14.5" fill="url(#gTe)"/>
<circle cx="2682.2" cy="2111" r="14.5" fill="url(#gTe)"/>
<circle cx="2712" cy="2111" r="14.5" fill="url(#gTe)"/>
<circle cx="2741.8" cy="2111" r="14.5" fill="url(#gTe)"/>
<circle cx="2771.5" cy="2116.5" r="14.5" fill="url(#gTe)"/>
<circle cx="2801.3" cy="2105" r="14.5" fill="url(#gTe)"/>
<circle cx="2831.1" cy="2110" r="14.5" fill="url(#gTe)"/>
<circle cx="2860.9" cy="2111" r="14.5" fill="url(#gTe)"/>
<circle cx="2890.7" cy="2116.5" r="14.5" fill="url(#gTe)"/>
<circle cx="2920.5" cy="2113.5" r="14.5" fill="url(#gTe)"/>
<circle cx="2950.3" cy="2106" r="14.5" fill="url(#gTe)"/>
<circle cx="2980.1" cy="2106.5" r="14.5" fill="url(#gTe)"/>
<circle cx="3009.9" cy="2106.5" r="14.5" fill="url(#gTe)"/>
<circle cx="3039.7" cy="2106.5" r="14.5" fill="url(#gTe)"/>
<circle cx="3069.4" cy="2106.5" r="14.5" fill="url(#gTe)"/>
<circle cx="3099.2" cy="2116.5" r="14.5" fill="url(#gTe)"/>
<circle cx="3129" cy="2106.5" r="14.5" fill="url(#gTe)"/>
<circle cx="3158.8" cy="2106.5" r="14.5" fill="url(#gTe)"/>
<circle cx="3188.6" cy="2106.5" r="14.5" fill="url(#gTe)"/>
<circle cx="3218.4" cy="2116" r="14.5" fill="url(#gTe)"/>
<circle cx="3248.2" cy="2114" r="14.5" fill="url(#gTe)"/>
<circle cx="3278" cy="2117.5" r="14.5" fill="url(#gTe)"/>
<circle cx="3307.8" cy="2107.5" r="14.5" fill="url(#gTe)"/>
<circle cx="3337.5" cy="2104" r="14.5" fill="url(#gTe)"/>
<circle cx="3367.3" cy="2105" r="14.5" fill="url(#gTe)"/>
<circle cx="3397.1" cy="2093.5" r="14.5" fill="url(#gTe)"/>
<circle cx="3426.9" cy="2110" r="14.5" fill="url(#gTe)"/>
<circle cx="3456.7" cy="2117.5" r="14.5" fill="url(#gTe)"/>
<circle cx="3486.5" cy="2119" r="14.5" fill="url(#gTe)"/>
<circle cx="507.5" cy="2265" r="14.5" fill="url(#gOr)"/>
<circle cx="537.3" cy="2270" r="14.5" fill="url(#gOr)"/>
<circle cx="567.1" cy="2271.5" r="14.5" fill="url(#gOr)"/>
<circle cx="596.9" cy="2271.5" r="14.5" fill="url(#gOr)"/>
<circle cx="626.7" cy="2274" r="14.5" fill="url(#gOr)"/>
<circle cx="656.5" cy="2272.5" r="14.5" fill="url(#gOr)"/>
<circle cx="686.2" cy="2268" r="14.5" fill="url(#gOr)"/>
<circle cx="716" cy="2264" r="14.5" fill="url(#gOr)"/>
<circle cx="745.8" cy="2265.5" r="14.5" fill="url(#gOr)"/>
<circle cx="775.6" cy="2266" r="14.5" fill="url(#gOr)"/>
<circle cx="805.4" cy="2266" r="14.5" fill="url(#gOr)"/>
<circle cx="835.2" cy="2267.5" r="14.5" fill="url(#gOr)"/>
<circle cx="865" cy="2264.5" r="14.5" fill="url(#gOr)"/>
<circle cx="894.8" cy="2264.5" r="14.5" fill="url(#gOr)"/>
<circle cx="924.6" cy="2272.5" r="14.5" fill="url(#gOr)"/>
<circle cx="954.3" cy="2274" r="14.5" fill="url(#gOr)"/>
<circle cx="984.1" cy="2277.5" r="14.5" fill="url(#gOr)"/>
<circle cx="1013.9" cy="2280" r="14.5" fill="url(#gOr)"/>
<circle cx="1043.7" cy="2281" r="14.5" fill="url(#gOr)"/>
<circle cx="1073.5" cy="2280" r="14.5" fill="url(#gOr)"/>
<circle cx="1103.3" cy="2282" r="14.5" fill="url(#gOr)"/>
<circle cx="1133.1" cy="2285.5" r="14.5" fill="url(#gOr)"/>
<circle cx="1162.9" cy="2284" r="14.5" fill="url(#gOr)"/>
<circle cx="1192.7" cy="2286.5" r="14.5" fill="url(#gOr)"/>
<circle cx="1222.5" cy="2287.5" r="14.5" fill="url(#gOr)"/>
<circle cx="1252.2" cy="2290.5" r="14.5" fill="url(#gOr)"/>
<circle cx="1282" cy="2291.5" r="14.5" fill="url(#gOr)"/>
<circle cx="1311.8" cy="2293.5" r="14.5" fill="url(#gOr)"/>
<circle cx="1341.6" cy="2294" r="14.5" fill="url(#gOr)"/>
<circle cx="1371.4" cy="2294" r="14.5" fill="url(#gOr)"/>
<circle cx="1401.2" cy="2296" r="14.5" fill="url(#gOr)"/>
<circle cx="1431" cy="2296" r="14.5" fill="url(#gOr)"/>
<circle cx="1460.8" cy="2297.5" r="14.5" fill="url(#gOr)"/>
<circle cx="1490.6" cy="2300" r="14.5" fill="url(#gOr)"/>
<circle cx="1520.4" cy="2301.5" r="14.5" fill="url(#gOr)"/>
<circle cx="1550.1" cy="2299" r="14.5" fill="url(#gOr)"/>
<circle cx="1579.9" cy="2300" r="14.5" fill="url(#gOr)"/>
<circle cx="1609.7" cy="2300" r="14.5" fill="url(#gOr)"/>
<circle cx="1639.5" cy="2303.5" r="14.5" fill="url(#gOr)"/>
<circle cx="1669.3" cy="2301" r="14.5" fill="url(#gOr)"/>
<circle cx="1699.1" cy="2300" r="14.5" fill="url(#gOr)"/>
<circle cx="1728.9" cy="2300" r="14.5" fill="url(#gOr)"/>
<circle cx="1758.7" cy="2302.5" r="14.5" fill="url(#gOr)"/>
<circle cx="1788.5" cy="2293.5" r="14.5" fill="url(#gOr)"/>
<circle cx="1818.3" cy="2293.5" r="14.5" fill="url(#gOr)"/>
<circle cx="1848" cy="2288.5" r="14.5" fill="url(#gOr)"/>
<circle cx="1877.8" cy="2288.5" r="14.5" fill="url(#gOr)"/>
<circle cx="1907.6" cy="2288.5" r="14.5" fill="url(#gOr)"/>
<circle cx="1937.4" cy="2290" r="14.5" fill="url(#gOr)"/>
<circle cx="1967.2" cy="2291.5" r="14.5" fill="url(#gOr)"/>
<circle cx="1997" cy="2292.5" r="14.5" fill="url(#gOr)"/>
<circle cx="2026.8" cy="2296" r="14.5" fill="url(#gOr)"/>
<circle cx="2056.6" cy="2298.5" r="14.5" fill="url(#gOr)"/>
<circle cx="2086.4" cy="2301" r="14.5" fill="url(#gOr)"/>
<circle cx="2116.2" cy="2301" r="14.5" fill="url(#gOr)"/>
<circle cx="2145.9" cy="2300" r="14.5" fill="url(#gOr)"/>
<circle cx="2175.7" cy="2301" r="14.5" fill="url(#gOr)"/>
<circle cx="2205.5" cy="2300" r="14.5" fill="url(#gOr)"/>
<circle cx="2235.3" cy="2303.5" r="14.5" fill="url(#gOr)"/>
<circle cx="2265.1" cy="2300" r="14.5" fill="url(#gOr)"/>
<circle cx="2294.9" cy="2302.5" r="14.5" fill="url(#gOr)"/>
<circle cx="2324.7" cy="2293.5" r="14.5" fill="url(#gOr)"/>
<circle cx="2354.5" cy="2293.5" r="14.5" fill="url(#gOr)"/>
<circle cx="2384.3" cy="2295" r="14.5" fill="url(#gOr)"/>
<circle cx="2414.1" cy="2292.5" r="14.5" fill="url(#gOr)"/>
<circle cx="2443.8" cy="2293.5" r="14.5" fill="url(#gOr)"/>
<circle cx="2473.6" cy="2292.5" r="14.5" fill="url(#gOr)"/>
<circle cx="2503.4" cy="2291.5" r="14.5" fill="url(#gOr)"/>
<circle cx="2533.2" cy="2288.5" r="14.5" fill="url(#gOr)"/>
<circle cx="2563" cy="2287.5" r="14.5" fill="url(#gOr)"/>
<circle cx="2592.8" cy="2299" r="14.5" fill="url(#gOr)"/>
<circle cx="2622.6" cy="2299" r="14.5" fill="url(#gOr)"/>
<circle cx="2652.4" cy="2292.5" r="14.5" fill="url(#gOr)"/>
<circle cx="2682.2" cy="2292.5" r="14.5" fill="url(#gOr)"/>
<circle cx="2712" cy="2303.5" r="14.5" fill="url(#gOr)"/>
<circle cx="2741.8" cy="2311" r="14.5" fill="url(#gOr)"/>
<circle cx="2771.5" cy="2316" r="14.5" fill="url(#gOr)"/>
<circle cx="2801.3" cy="2317.5" r="14.5" fill="url(#gOr)"/>
<circle cx="2831.1" cy="2315" r="14.5" fill="url(#gOr)"/>
<circle cx="2860.9" cy="2315" r="14.5" fill="url(#gOr)"/>
<circle cx="2890.7" cy="2311.5" r="14.5" fill="url(#gOr)"/>
<circle cx="2920.5" cy="2314" r="14.5" fill="url(#gOr)"/>
<circle cx="2950.3" cy="2311.5" r="14.5" fill="url(#gOr)"/>
<circle cx="2980.1" cy="2311.5" r="14.5" fill="url(#gOr)"/>
<circle cx="3009.9" cy="2315" r="14.5" fill="url(#gOr)"/>
<circle cx="3039.7" cy="2306.5" r="14.5" fill="url(#gOr)"/>
<circle cx="3069.4" cy="2314" r="14.5" fill="url(#gOr)"/>
<circle cx="3099.2" cy="2312.5" r="14.5" fill="url(#gOr)"/>
<circle cx="3129" cy="2315" r="14.5" fill="url(#gOr)"/>
<circle cx="3158.8" cy="2314" r="14.5" fill="url(#gOr)"/>
<circle cx="3188.6" cy="2315" r="14.5" fill="url(#gOr)"/>
<circle cx="3218.4" cy="2311.5" r="14.5" fill="url(#gOr)"/>
<circle cx="3248.2" cy="2311.5" r="14.5" fill="url(#gOr)"/>
<circle cx="3278" cy="2316.5" r="14.5" fill="url(#gOr)"/>
<circle cx="3307.8" cy="2312.5" r="14.5" fill="url(#gOr)"/>
<circle cx="3337.5" cy="2310" r="14.5" fill="url(#gOr)"/>
<circle cx="3367.3" cy="2312.5" r="14.5" fill="url(#gOr)"/>
<circle cx="3397.1" cy="2314" r="14.5" fill="url(#gOr)"/>
<circle cx="3426.9" cy="2314" r="14.5" fill="url(#gOr)"/>
<circle cx="3456.7" cy="2314" r="14.5" fill="url(#gOr)"/>
<circle cx="3486.5" cy="2311.5" r="14.5" fill="url(#gOr)"/>
<path d="M568.5,2290 L568.5,2360 L470,2360" stroke="#ff8c1e" stroke-width="4" fill="none" stroke-linejoin="round" stroke-linecap="round" stroke-linecap="butt"/>
<polygon points="446,2360 478,2352 478,2368" fill="#ff8c1e"/>
<path d="M3426.5,2153 L3426.5,2217 L3560,2217" stroke="#1e8c8c" stroke-width="4" fill="none" stroke-linejoin="round" stroke-linecap="round"/>
<polygon points="3585,2217 3553,2209 3553,2225" fill="#1e8c8c"/>
<text x="47" y="2013" font-size="106" text-anchor="start" fill="#000" font-weight="bold">g</text>
<rect x="2570" y="1045" width="1260" height="925" fill="#fdfdfd" stroke="none" stroke-width="0"/>
<rect x="2788.5" y="1061" width="1021.5" height="759" fill="#fdfdfd" stroke="#1a1a1a" stroke-width="5.5"/>
<line x1="2831" y1="1820" x2="2831" y2="1805" stroke="#1a1a1a" stroke-width="4.5"/><line x1="3112.2" y1="1820" x2="3112.2" y2="1805" stroke="#1a1a1a" stroke-width="4.5"/><line x1="3393.5" y1="1820" x2="3393.5" y2="1805" stroke="#1a1a1a" stroke-width="4.5"/><line x1="3674.8" y1="1820" x2="3674.8" y2="1805" stroke="#1a1a1a" stroke-width="4.5"/>
<line x1="2788.5" y1="1722.3" x2="2803.5" y2="1722.3" stroke="#1a1a1a" stroke-width="4.5"/><line x1="2788.5" y1="1539" x2="2803.5" y2="1539" stroke="#1a1a1a" stroke-width="4.5"/><line x1="2788.5" y1="1355.7" x2="2803.5" y2="1355.7" stroke="#1a1a1a" stroke-width="4.5"/><line x1="2788.5" y1="1172.4" x2="2803.5" y2="1172.4" stroke="#1a1a1a" stroke-width="4.5"/>
<line x1="2803.7" y1="1820" x2="2803.7" y2="1812" stroke="#1a1a1a" stroke-width="4"/><line x1="2818.1" y1="1820" x2="2818.1" y2="1812" stroke="#1a1a1a" stroke-width="4"/><line x1="2915.7" y1="1820" x2="2915.7" y2="1812" stroke="#1a1a1a" stroke-width="4"/><line x1="2965.2" y1="1820" x2="2965.2" y2="1812" stroke="#1a1a1a" stroke-width="4"/><line x1="3000.3" y1="1820" x2="3000.3" y2="1812" stroke="#1a1a1a" stroke-width="4"/><line x1="3027.6" y1="1820" x2="3027.6" y2="1812" stroke="#1a1a1a" stroke-width="4"/><line x1="3049.9" y1="1820" x2="3049.9" y2="1812" stroke="#1a1a1a" stroke-width="4"/><line x1="3068.7" y1="1820" x2="3068.7" y2="1812" stroke="#1a1a1a" stroke-width="4"/><line x1="3085" y1="1820" x2="3085" y2="1812" stroke="#1a1a1a" stroke-width="4"/><line x1="3099.4" y1="1820" x2="3099.4" y2="1812" stroke="#1a1a1a" stroke-width="4"/><line x1="3196.9" y1="1820" x2="3196.9" y2="1812" stroke="#1a1a1a" stroke-width="4"/><line x1="3246.4" y1="1820" x2="3246.4" y2="1812" stroke="#1a1a1a" stroke-width="4"/><line x1="3281.6" y1="1820" x2="3281.6" y2="1812" stroke="#1a1a1a" stroke-width="4"/><line x1="3308.8" y1="1820" x2="3308.8" y2="1812" stroke="#1a1a1a" stroke-width="4"/><line x1="3331.1" y1="1820" x2="3331.1" y2="1812" stroke="#1a1a1a" stroke-width="4"/><line x1="3349.9" y1="1820" x2="3349.9" y2="1812" stroke="#1a1a1a" stroke-width="4"/><line x1="3366.2" y1="1820" x2="3366.2" y2="1812" stroke="#1a1a1a" stroke-width="4"/><line x1="3380.6" y1="1820" x2="3380.6" y2="1812" stroke="#1a1a1a" stroke-width="4"/><line x1="3478.2" y1="1820" x2="3478.2" y2="1812" stroke="#1a1a1a" stroke-width="4"/><line x1="3527.7" y1="1820" x2="3527.7" y2="1812" stroke="#1a1a1a" stroke-width="4"/><line x1="3562.8" y1="1820" x2="3562.8" y2="1812" stroke="#1a1a1a" stroke-width="4"/><line x1="3590.1" y1="1820" x2="3590.1" y2="1812" stroke="#1a1a1a" stroke-width="4"/><line x1="3612.4" y1="1820" x2="3612.4" y2="1812" stroke="#1a1a1a" stroke-width="4"/><line x1="3631.2" y1="1820" x2="3631.2" y2="1812" stroke="#1a1a1a" stroke-width="4"/><line x1="3647.5" y1="1820" x2="3647.5" y2="1812" stroke="#1a1a1a" stroke-width="4"/><line x1="3661.9" y1="1820" x2="3661.9" y2="1812" stroke="#1a1a1a" stroke-width="4"/><line x1="3759.4" y1="1820" x2="3759.4" y2="1812" stroke="#1a1a1a" stroke-width="4"/>
<line x1="2788.5" y1="1795.2" x2="2796.5" y2="1795.2" stroke="#1a1a1a" stroke-width="4"/><line x1="2788.5" y1="1777.5" x2="2796.5" y2="1777.5" stroke="#1a1a1a" stroke-width="4"/><line x1="2788.5" y1="1763" x2="2796.5" y2="1763" stroke="#1a1a1a" stroke-width="4"/><line x1="2788.5" y1="1750.7" x2="2796.5" y2="1750.7" stroke="#1a1a1a" stroke-width="4"/><line x1="2788.5" y1="1740.1" x2="2796.5" y2="1740.1" stroke="#1a1a1a" stroke-width="4"/><line x1="2788.5" y1="1730.7" x2="2796.5" y2="1730.7" stroke="#1a1a1a" stroke-width="4"/><line x1="2788.5" y1="1667.1" x2="2796.5" y2="1667.1" stroke="#1a1a1a" stroke-width="4"/><line x1="2788.5" y1="1634.8" x2="2796.5" y2="1634.8" stroke="#1a1a1a" stroke-width="4"/><line x1="2788.5" y1="1611.9" x2="2796.5" y2="1611.9" stroke="#1a1a1a" stroke-width="4"/><line x1="2788.5" y1="1594.2" x2="2796.5" y2="1594.2" stroke="#1a1a1a" stroke-width="4"/><line x1="2788.5" y1="1579.7" x2="2796.5" y2="1579.7" stroke="#1a1a1a" stroke-width="4"/><line x1="2788.5" y1="1567.4" x2="2796.5" y2="1567.4" stroke="#1a1a1a" stroke-width="4"/><line x1="2788.5" y1="1556.8" x2="2796.5" y2="1556.8" stroke="#1a1a1a" stroke-width="4"/><line x1="2788.5" y1="1547.4" x2="2796.5" y2="1547.4" stroke="#1a1a1a" stroke-width="4"/><line x1="2788.5" y1="1483.8" x2="2796.5" y2="1483.8" stroke="#1a1a1a" stroke-width="4"/><line x1="2788.5" y1="1451.5" x2="2796.5" y2="1451.5" stroke="#1a1a1a" stroke-width="4"/><line x1="2788.5" y1="1428.6" x2="2796.5" y2="1428.6" stroke="#1a1a1a" stroke-width="4"/><line x1="2788.5" y1="1410.9" x2="2796.5" y2="1410.9" stroke="#1a1a1a" stroke-width="4"/><line x1="2788.5" y1="1396.4" x2="2796.5" y2="1396.4" stroke="#1a1a1a" stroke-width="4"/><line x1="2788.5" y1="1384.1" x2="2796.5" y2="1384.1" stroke="#1a1a1a" stroke-width="4"/><line x1="2788.5" y1="1373.5" x2="2796.5" y2="1373.5" stroke="#1a1a1a" stroke-width="4"/><line x1="2788.5" y1="1364.1" x2="2796.5" y2="1364.1" stroke="#1a1a1a" stroke-width="4"/><line x1="2788.5" y1="1300.5" x2="2796.5" y2="1300.5" stroke="#1a1a1a" stroke-width="4"/><line x1="2788.5" y1="1268.2" x2="2796.5" y2="1268.2" stroke="#1a1a1a" stroke-width="4"/><line x1="2788.5" y1="1245.3" x2="2796.5" y2="1245.3" stroke="#1a1a1a" stroke-width="4"/><line x1="2788.5" y1="1227.6" x2="2796.5" y2="1227.6" stroke="#1a1a1a" stroke-width="4"/><line x1="2788.5" y1="1213.1" x2="2796.5" y2="1213.1" stroke="#1a1a1a" stroke-width="4"/><line x1="2788.5" y1="1200.8" x2="2796.5" y2="1200.8" stroke="#1a1a1a" stroke-width="4"/><line x1="2788.5" y1="1190.2" x2="2796.5" y2="1190.2" stroke="#1a1a1a" stroke-width="4"/><line x1="2788.5" y1="1180.8" x2="2796.5" y2="1180.8" stroke="#1a1a1a" stroke-width="4"/><line x1="2788.5" y1="1117.2" x2="2796.5" y2="1117.2" stroke="#1a1a1a" stroke-width="4"/><line x1="2788.5" y1="1084.9" x2="2796.5" y2="1084.9" stroke="#1a1a1a" stroke-width="4"/>
<text x="2771" y="1190.4" font-size="55.5" text-anchor="end" fill="#000" font-weight="bold">100</text>
<text x="2771" y="1373.7" font-size="55.5" text-anchor="end" fill="#000" font-weight="bold">10</text>
<text x="2771" y="1557" font-size="55.5" text-anchor="end" fill="#000" font-weight="bold">1</text>
<text x="2771" y="1740.3" font-size="55.5" text-anchor="end" fill="#000" font-weight="bold">0.1</text>
<text x="2831" y="1878" font-size="55.5" text-anchor="middle" fill="#000" font-weight="bold">0.01</text>
<text x="3112.2" y="1878" font-size="55.5" text-anchor="middle" fill="#000" font-weight="bold">0.1</text>
<text x="3393.5" y="1878" font-size="55.5" text-anchor="middle" fill="#000" font-weight="bold">1</text>
<text x="3674.8" y="1878" font-size="55.5" text-anchor="middle" fill="#000" font-weight="bold">10</text>
<text x="3265" y="1954" font-size="57" text-anchor="middle" fill="#000" font-weight="bold" xml:space="preserve"><tspan>Power density (mW cm</tspan><tspan dy="-22.8" font-size="35.3">-2</tspan><tspan dy="22.8">)</tspan></text>
<text x="2637" y="1457" font-size="56.5" text-anchor="middle" fill="#000" font-weight="bold" transform="rotate(-90 2637 1457)" xml:space="preserve"><tspan>Energy density (</tspan><tspan font-family="'Liberation Serif', 'DejaVu Serif', serif" font-weight="normal">μ</tspan><tspan>Wh cm</tspan><tspan dy="-22.6" font-size="35">-2</tspan><tspan dy="22.6">)</tspan></text>
<circle cx="3171" cy="1160" r="13" fill="#fff" stroke="#80147a" stroke-width="3"/>
<path d="M3158,1160 A13,13 0 0 0 3184,1160 Z" fill="#80147a"/>
<text x="3100" y="1221.5" font-size="42.3" text-anchor="start" fill="#80147a" font-weight="bold">Zn//AC</text>
<path d="M3330,1147.5 L3347.5,1157.5 L3364,1166 L3405,1171.5" stroke="#ff8c1e" stroke-width="4" fill="none" stroke-linejoin="round" stroke-linecap="round"/>
<circle cx="3330" cy="1147.5" r="13.5" fill="url(#gOr)"/>
<circle cx="3347.5" cy="1157.5" r="13.5" fill="url(#gOr)"/>
<circle cx="3364" cy="1166" r="13.5" fill="url(#gOr)"/>
<circle cx="3405" cy="1171.5" r="13.5" fill="url(#gOr)"/>
<text x="3315" y="1244" font-size="42.3" text-anchor="start" fill="#ff8c1e" font-weight="bold">Zn//LDH@CC</text>
<path d="M3405,1135 L3454,1152.5 L3521,1168.5 L3576,1177.5" stroke="#ff1e28" stroke-width="4" fill="none" stroke-linejoin="round" stroke-linecap="round"/>
<polygon points="3405,1118 3409.4,1129.9 3422.1,1130.4 3412.1,1138.3 3415.6,1150.6 3405,1143.5 3394.4,1150.6 3397.9,1138.3 3387.9,1130.4 3400.6,1129.9" fill="#ff1e28"/>
<polygon points="3454,1135.5 3458.4,1147.4 3471.1,1147.9 3461.1,1155.8 3464.6,1168.1 3454,1161 3443.4,1168.1 3446.9,1155.8 3436.9,1147.9 3449.6,1147.4" fill="#ff1e28"/>
<polygon points="3521,1151.5 3525.4,1163.4 3538.1,1163.9 3528.1,1171.8 3531.6,1184.1 3521,1177 3510.4,1184.1 3513.9,1171.8 3503.9,1163.9 3516.6,1163.4" fill="#ff1e28"/>
<polygon points="3576,1160.5 3580.4,1172.4 3593.1,1172.9 3583.1,1180.8 3586.6,1193.1 3576,1186 3565.4,1193.1 3568.9,1180.8 3558.9,1172.9 3571.6,1172.4" fill="#ff1e28"/>
<text x="3529" y="1147.5" font-size="42.3" text-anchor="start" fill="#ff1e28" font-weight="bold">This work</text>
<polygon points="3627,1269 3659,1252 3659,1286" fill="#14148c"/>
<text x="3588.5" y="1336" font-size="42.3" text-anchor="start" fill="#14148c" font-weight="bold">Zn//CNT</text>
<path d="M3085,1307.5 L3177.5,1316 L3265,1327.5 L3310,1339" stroke="#1e1eff" stroke-width="4" fill="none" stroke-linejoin="round" stroke-linecap="round"/>
<polygon points="3085,1287.5 3102,1318.5 3068,1318.5" fill="#fff" stroke="#1e1eff" stroke-width="3" stroke-linejoin="round"/>
<polygon points="3085,1287.5 3085,1318.5 3068,1318.5" fill="#1e1eff"/>
<polygon points="3177.5,1296 3194.5,1327 3160.5,1327" fill="#fff" stroke="#1e1eff" stroke-width="3" stroke-linejoin="round"/>
<polygon points="3177.5,1296 3177.5,1327 3160.5,1327" fill="#1e1eff"/>
<polygon points="3265,1307.5 3282,1338.5 3248,1338.5" fill="#fff" stroke="#1e1eff" stroke-width="3" stroke-linejoin="round"/>
<polygon points="3265,1307.5 3265,1338.5 3248,1338.5" fill="#1e1eff"/>
<polygon points="3310,1319 3327,1350 3293,1350" fill="#fff" stroke="#1e1eff" stroke-width="3" stroke-linejoin="round"/>
<polygon points="3310,1319 3310,1350 3293,1350" fill="#1e1eff"/>
<text x="2998.5" y="1406" font-size="42.3" text-anchor="start" fill="#1e1eff" font-weight="bold">Cu(OH)2@FeOOH</text>
<polygon points="3466,1371.5 3485,1388.5 3466,1405.5 3447,1388.5" fill="#1e8c1e"/>
<text x="3412.5" y="1466.5" font-size="42.3" text-anchor="start" fill="#1e8c1e" font-weight="bold">Ni–Zn Battery</text>
<polygon points="3171,1529 3189,1550 3171,1569 3153,1550" fill="#fff" stroke="#ff1eff" stroke-width="3" stroke-linejoin="round"/>
<polygon points="3189,1550 3171,1569 3153,1550" fill="#ff1eff"/>
<text x="3232.5" y="1574" font-size="42.3" text-anchor="start" fill="#ff1eff" font-weight="bold">Graphene/ZnO</text>
<polygon points="2847.5,1699 2861.5,1707 2861.5,1723 2847.5,1731 2833.5,1723 2833.5,1707" fill="#fff" stroke="#8c1eff" stroke-width="3" stroke-linejoin="round"/>
<polygon points="2861.5,1715 2861.5,1723 2847.5,1731 2833.5,1723 2833.5,1715" fill="#8c1eff"/>
<text x="2886.5" y="1735" font-size="42.3" text-anchor="start" fill="#8c1eff" font-weight="bold">MXene</text>
<text x="2655" y="1067" font-size="112" text-anchor="start" fill="#000" font-weight="bold">f</text>
</svg>
</body></html>
